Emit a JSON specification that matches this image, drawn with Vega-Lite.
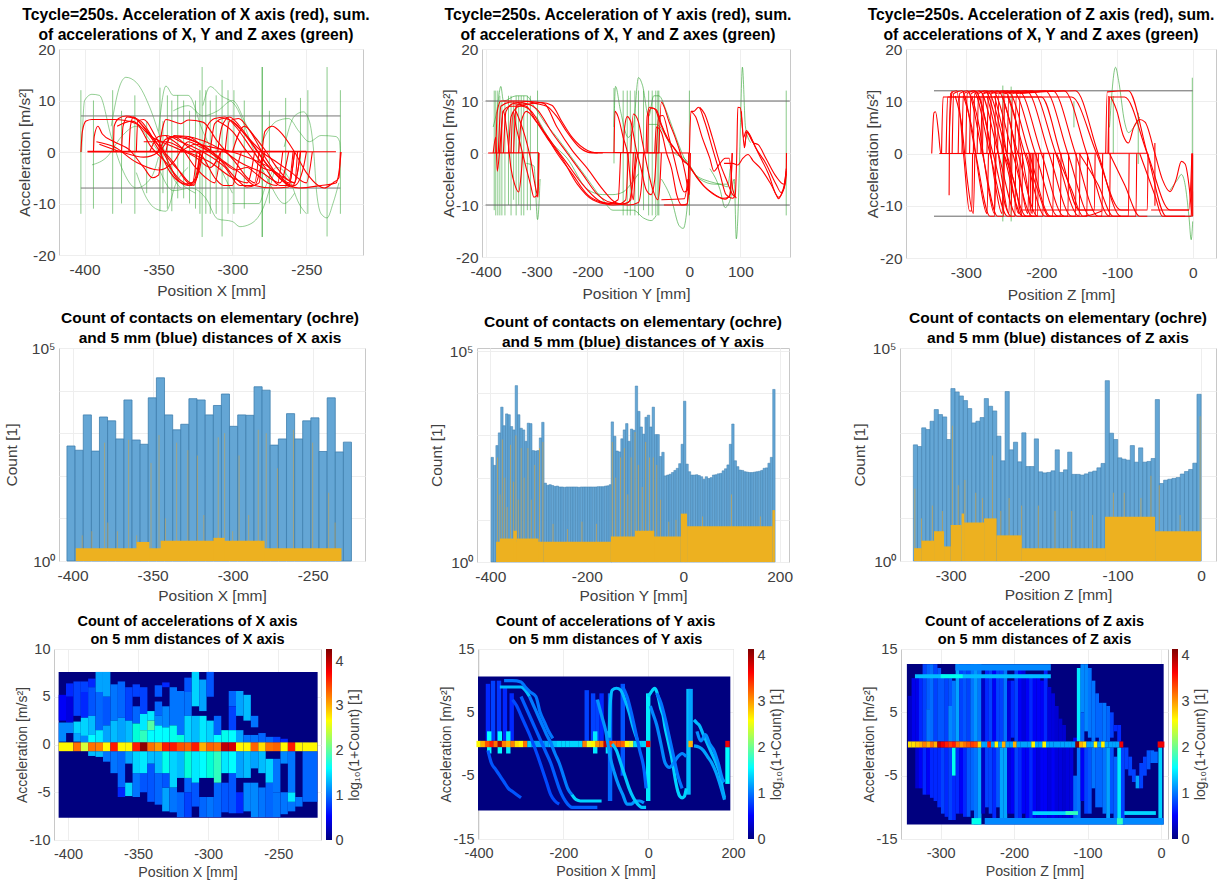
{"$schema":"https://vega.github.io/schema/vega-lite/v6.json","padding":0,"background":"white","data":{"values":[]},"spacing":0,"bounds":"full","align":"none","center":false,
"config":{"view":{"stroke":null},"font":"Liberation Sans","title":{"font":"Liberation Sans","fontWeight":"bold","color":"#000000","anchor":"middle"},"axis":{"grid":true,"gridColor":"#eeeeee","domain":false,"ticks":false,"labelColor":"#404040","titleColor":"#404040","titleFontWeight":"normal","labelOverlap":false,"labelBound":false,"labelFlush":false}},
"vconcat":[
{"width":1,"height":6,"mark":"point"},
{"bounds":"flush","spacing":0,"align":"none","center":false,"hconcat":[
{"width":59,"height":1,"mark":"point"},
{"width":304,"height":206,"view":{"stroke":"#c8c8c8"},"title":{"text":["Tcycle=250s. Acceleration of X axis (red), sum.","of accelerations of X, Y and Z axes (green)"],"fontSize":15.7,"lineHeight":20,"offset":-2,"dx":-15},
"layer":[
{"data":{"values":[{"x":-402.5,"y":12,"Y":-12},{"x":-394,"y":10,"Y":-11},{"x":-381,"y":12,"Y":-12},{"x":-375,"y":8,"Y":-10},{"x":-366,"y":11,"Y":-12},{"x":-358,"y":6,"Y":-8},{"x":-349,"y":12.5,"Y":-11.5},{"x":-347,"y":6,"Y":-8},{"x":-344,"y":11,"Y":-11},{"x":-341,"y":10,"Y":-11.5},{"x":-337,"y":11,"Y":-9},{"x":-333,"y":10,"Y":-9},{"x":-329,"y":8,"Y":-10},{"x":-325,"y":10,"Y":-11},{"x":-322,"y":12,"Y":-12},{"x":-320.5,"y":16.5,"Y":-16.5},{"x":-318,"y":12,"Y":-12},{"x":-315,"y":10,"Y":-12},{"x":-311,"y":11,"Y":-12},{"x":-307,"y":14,"Y":-16.4},{"x":-303,"y":12,"Y":-12},{"x":-299,"y":12,"Y":-12},{"x":-292,"y":10,"Y":-11},{"x":-280,"y":16.5,"Y":-16.5},{"x":-279.7,"y":16.5,"Y":-16.5},{"x":-275,"y":8,"Y":-10},{"x":-264,"y":10.5,"Y":-12},{"x":-254,"y":10.5,"Y":-12},{"x":-249,"y":12,"Y":-12},{"x":-236,"y":16.5,"Y":-16.4},{"x":-227,"y":12,"Y":-12}]},"mark":{"type":"rule","color":"#2ca02c","opacity":0.55,"strokeWidth":1},"encoding":{"x":{"field":"x","type":"quantitative","scale":{"domain":[-417.3,-211.7],"nice":false,"zero":false},"axis":{"values":[-400,-350,-300,-250],"labelExpr":"''+datum.value","title":"Position X [mm]","labelFontSize":15.5,"titleFontSize":15.5,"labelPadding":7,"titlePadding":6}},"y":{"field":"y","type":"quantitative","scale":{"domain":[-20,20],"nice":false},"axis":{"values":[-20,-10,0,10,20],"labelExpr":"''+datum.value","title":"Acceleration [m/s²]","labelFontSize":15.5,"titleFontSize":15.5,"labelPadding":4,"titlePadding":0}},"y2":{"field":"Y"}}},
{"data":{"values":[{"c":1,"x":-402,"y":0},{"c":1,"x":-400,"y":10},{"c":1,"x":-395,"y":11.2},{"c":1,"x":-390,"y":11},{"c":1,"x":-382,"y":3},{"c":1,"x":-375,"y":-3},{"c":1,"x":-365,"y":-7},{"c":1,"x":-355,"y":-5},{"c":1,"x":-350,"y":-1},{"c":2,"x":-382,"y":5},{"c":2,"x":-376,"y":13},{"c":2,"x":-372,"y":14.5},{"c":2,"x":-365,"y":13.5},{"c":2,"x":-355,"y":8},{"c":2,"x":-348,"y":2},{"c":2,"x":-340,"y":-5},{"c":2,"x":-335,"y":-7},{"c":3,"x":-350,"y":4},{"c":3,"x":-345,"y":12.8},{"c":3,"x":-340,"y":11},{"c":3,"x":-330,"y":11},{"c":3,"x":-320,"y":4},{"c":3,"x":-310,"y":-2},{"c":3,"x":-300,"y":-8},{"c":4,"x":-320,"y":9},{"c":4,"x":-315,"y":12.7},{"c":4,"x":-308,"y":11},{"c":4,"x":-298,"y":9},{"c":4,"x":-285,"y":0},{"c":4,"x":-275,"y":-6},{"c":4,"x":-265,"y":-10},{"c":4,"x":-258,"y":-8},{"c":5,"x":-350,"y":-3},{"c":5,"x":-340,"y":-7.5},{"c":5,"x":-328,"y":-7},{"c":5,"x":-318,"y":-9},{"c":5,"x":-310,"y":-13},{"c":5,"x":-300,"y":-13.5},{"c":5,"x":-295,"y":-14.5},{"c":5,"x":-288,"y":-14},{"c":5,"x":-278,"y":-10},{"c":5,"x":-272,"y":-4},{"c":6,"x":-365,"y":-4},{"c":6,"x":-358,"y":-9},{"c":6,"x":-352,"y":-11},{"c":6,"x":-345,"y":-11.5},{"c":6,"x":-338,"y":-6},{"c":6,"x":-330,"y":-3},{"c":7,"x":-265,"y":1},{"c":7,"x":-258,"y":7},{"c":7,"x":-252,"y":7.8},{"c":7,"x":-248,"y":6},{"c":7,"x":-245,"y":0},{"c":7,"x":-243,"y":-8},{"c":7,"x":-240,"y":-12},{"c":7,"x":-236,"y":-12.8},{"c":7,"x":-232,"y":-10},{"c":7,"x":-228,"y":-6},{"c":8,"x":-280,"y":2},{"c":8,"x":-270,"y":6},{"c":8,"x":-262,"y":6.5},{"c":8,"x":-255,"y":4},{"c":8,"x":-248,"y":2},{"c":8,"x":-240,"y":3.2},{"c":8,"x":-230,"y":3},{"c":8,"x":-227.5,"y":2},{"c":8,"x":-227,"y":0},{"c":9,"x":-300,"y":-10},{"c":9,"x":-290,"y":-10},{"c":9,"x":-282,"y":-10},{"c":9,"x":-278,"y":-7},{"c":9,"x":-270,"y":-3},{"c":9,"x":-262,"y":-5},{"c":9,"x":-255,"y":-10},{"c":9,"x":-250,"y":-12},{"c":10,"x":-340,"y":8},{"c":10,"x":-330,"y":9},{"c":10,"x":-320,"y":7},{"c":10,"x":-310,"y":8},{"c":10,"x":-300,"y":10},{"c":10,"x":-290,"y":5},{"c":10,"x":-280,"y":1},{"c":11,"x":-395,"y":-2.5},{"c":11,"x":-385,"y":-1},{"c":11,"x":-375,"y":3},{"c":11,"x":-365,"y":5},{"c":11,"x":-355,"y":2},{"c":11,"x":-345,"y":-2},{"c":11,"x":-335,"y":-6},{"c":11,"x":-325,"y":-8}]},"mark":{"type":"line","color":"#2ca02c","opacity":0.5,"strokeWidth":1,"interpolate":"monotone"},"encoding":{"x":{"field":"x","type":"quantitative"},"y":{"field":"y","type":"quantitative"},"detail":{"field":"c"}}},
{"data":{"values":[{"x":-402.5,"X":-227,"y":7},{"x":-402.5,"X":-227,"y":-7}]},"mark":{"type":"rule","color":"#777777","strokeWidth":1},"encoding":{"x":{"field":"x","type":"quantitative"},"x2":{"field":"X"},"y":{"field":"y","type":"quantitative"}}},
{"data":{"values":[{"c":1,"x":-402.5,"y":0},{"c":1,"x":-401.5,"y":4},{"c":1,"x":-399,"y":6},{"c":1,"x":-395,"y":6.3},{"c":1,"x":-380,"y":6.3},{"c":1,"x":-365,"y":5.5},{"c":1,"x":-355,"y":1},{"c":1,"x":-345,"y":-2},{"c":1,"x":-335,"y":-5.5},{"c":1,"x":-328,"y":-6.5},{"c":1,"x":-322,"y":-3},{"c":1,"x":-320,"y":0},{"c":2,"x":-394,"y":0},{"c":2,"x":-393.5,"y":3},{"c":2,"x":-391,"y":5},{"c":2,"x":-388,"y":3.5},{"c":2,"x":-380,"y":2},{"c":2,"x":-370,"y":0.5},{"c":2,"x":-360,"y":-3},{"c":2,"x":-354,"y":-5},{"c":2,"x":-350,"y":-4.5},{"c":2,"x":-348,"y":0},{"c":3,"x":-380.5,"y":0},{"c":3,"x":-380,"y":5},{"c":3,"x":-377,"y":6.5},{"c":3,"x":-372,"y":7},{"c":3,"x":-362,"y":6},{"c":3,"x":-352,"y":2},{"c":3,"x":-340,"y":-2},{"c":3,"x":-330,"y":-6},{"c":3,"x":-326,"y":-6.5},{"c":3,"x":-322,"y":-2},{"c":3,"x":-320,"y":0},{"c":4,"x":-375,"y":0},{"c":4,"x":-374,"y":5},{"c":4,"x":-371,"y":6.8},{"c":4,"x":-366,"y":6.5},{"c":4,"x":-358,"y":4},{"c":4,"x":-350,"y":0.5},{"c":4,"x":-342,"y":-4},{"c":4,"x":-335,"y":-6},{"c":4,"x":-330,"y":-6.5},{"c":4,"x":-325,"y":-5},{"c":4,"x":-322,"y":0},{"c":5,"x":-370,"y":0},{"c":5,"x":-369,"y":5},{"c":5,"x":-367,"y":6.8},{"c":5,"x":-362,"y":5.5},{"c":5,"x":-352,"y":2},{"c":5,"x":-345,"y":-1},{"c":5,"x":-338,"y":-5},{"c":5,"x":-332,"y":-6.2},{"c":5,"x":-327,"y":-6},{"c":5,"x":-324,"y":0},{"c":6,"x":-365,"y":0},{"c":6,"x":-364,"y":6},{"c":6,"x":-360,"y":6.3},{"c":6,"x":-352,"y":3},{"c":6,"x":-344,"y":-1},{"c":6,"x":-335,"y":-4},{"c":6,"x":-328,"y":-6},{"c":6,"x":-324,"y":-5},{"c":6,"x":-322,"y":0},{"c":7,"x":-356,"y":0},{"c":7,"x":-350,"y":3},{"c":7,"x":-345,"y":3.2},{"c":7,"x":-335,"y":2},{"c":7,"x":-320,"y":0},{"c":7,"x":-305,"y":-3},{"c":7,"x":-295,"y":-6.5},{"c":7,"x":-285,"y":-6.5},{"c":7,"x":-280,"y":-2},{"c":7,"x":-278,"y":0},{"c":8,"x":-350,"y":0},{"c":8,"x":-345,"y":2.5},{"c":8,"x":-335,"y":3},{"c":8,"x":-325,"y":2},{"c":8,"x":-310,"y":-1},{"c":8,"x":-298,"y":-5},{"c":8,"x":-290,"y":-6.8},{"c":8,"x":-282,"y":-6},{"c":8,"x":-280,"y":0},{"c":9,"x":-350,"y":0},{"c":9,"x":-345,"y":6.3},{"c":9,"x":-335,"y":5.5},{"c":9,"x":-330,"y":6.2},{"c":9,"x":-320,"y":5.8},{"c":9,"x":-310,"y":2},{"c":9,"x":-298,"y":-2},{"c":9,"x":-290,"y":-5},{"c":9,"x":-285,"y":-6},{"c":9,"x":-282,"y":0},{"c":10,"x":-320,"y":0},{"c":10,"x":-317,"y":5},{"c":10,"x":-312,"y":6.5},{"c":10,"x":-305,"y":6.8},{"c":10,"x":-298,"y":5},{"c":10,"x":-288,"y":1},{"c":10,"x":-278,"y":-3},{"c":10,"x":-268,"y":-6.5},{"c":10,"x":-262,"y":-6.5},{"c":10,"x":-258,"y":0},{"c":11,"x":-315,"y":0},{"c":11,"x":-312,"y":5.5},{"c":11,"x":-306,"y":6.5},{"c":11,"x":-298,"y":5.5},{"c":11,"x":-288,"y":2},{"c":11,"x":-278,"y":-2},{"c":11,"x":-268,"y":-5},{"c":11,"x":-260,"y":-6.8},{"c":11,"x":-256,"y":-4},{"c":11,"x":-254,"y":0},{"c":12,"x":-310,"y":0},{"c":12,"x":-307,"y":5},{"c":12,"x":-302,"y":6.8},{"c":12,"x":-295,"y":5},{"c":12,"x":-285,"y":1},{"c":12,"x":-275,"y":-3},{"c":12,"x":-264,"y":-6},{"c":12,"x":-258,"y":-6.5},{"c":12,"x":-252,"y":-3},{"c":12,"x":-250,"y":0},{"c":13,"x":-280,"y":0},{"c":13,"x":-278,"y":4},{"c":13,"x":-273,"y":5},{"c":13,"x":-268,"y":4},{"c":13,"x":-258,"y":0},{"c":13,"x":-250,"y":-4},{"c":13,"x":-242,"y":-6.5},{"c":13,"x":-238,"y":-7},{"c":13,"x":-232,"y":-6},{"c":13,"x":-228,"y":-5},{"c":13,"x":-227,"y":0},{"c":14,"x":-305,"y":0},{"c":14,"x":-302,"y":6},{"c":14,"x":-296,"y":6.5},{"c":14,"x":-288,"y":4},{"c":14,"x":-278,"y":-1},{"c":14,"x":-268,"y":-5},{"c":14,"x":-255,"y":-7},{"c":14,"x":-240,"y":-6.5},{"c":14,"x":-230,"y":-6},{"c":14,"x":-228,"y":-4},{"c":14,"x":-226.5,"y":0},{"c":15,"x":-345,"y":0},{"c":15,"x":-342,"y":3},{"c":15,"x":-330,"y":2.5},{"c":15,"x":-318,"y":1},{"c":15,"x":-305,"y":-2},{"c":15,"x":-295,"y":-4},{"c":15,"x":-285,"y":-6.5},{"c":15,"x":-272,"y":-7},{"c":15,"x":-262,"y":-6.8},{"c":15,"x":-258,"y":0},{"c":16,"x":-392,"y":2},{"c":16,"x":-380,"y":1},{"c":16,"x":-365,"y":-2},{"c":16,"x":-350,"y":-3.5},{"c":16,"x":-340,"y":-2},{"c":16,"x":-330,"y":2},{"c":16,"x":-322,"y":1},{"c":16,"x":-315,"y":0},{"c":17,"x":-335,"y":0},{"c":17,"x":-325,"y":1.5},{"c":17,"x":-315,"y":1},{"c":17,"x":-300,"y":0},{"c":17,"x":-290,"y":-1},{"c":17,"x":-278,"y":-2.5},{"c":17,"x":-265,"y":-5},{"c":17,"x":-258,"y":-6},{"c":17,"x":-254,"y":0},{"c":18,"x":-300,"y":0},{"c":18,"x":-292,"y":5},{"c":18,"x":-285,"y":3},{"c":18,"x":-277,"y":0},{"c":18,"x":-270,"y":-3},{"c":18,"x":-262,"y":-5.5},{"c":18,"x":-258,"y":-6},{"c":18,"x":-256,"y":0},{"c":19,"x":-390,"y":1.5},{"c":19,"x":-375,"y":0},{"c":19,"x":-360,"y":-1},{"c":19,"x":-350,"y":0},{"c":19,"x":-340,"y":3},{"c":19,"x":-330,"y":1},{"c":19,"x":-320,"y":-1},{"c":19,"x":-312,"y":-5},{"c":19,"x":-306,"y":-6.5},{"c":19,"x":-300,"y":-6.5},{"c":19,"x":-296,"y":-2},{"c":19,"x":-294,"y":0},{"c":20,"x":-340,"y":3.2},{"c":20,"x":-330,"y":3},{"c":20,"x":-318,"y":0.5},{"c":20,"x":-306,"y":-2},{"c":20,"x":-298,"y":-3.5},{"c":20,"x":-290,"y":-3},{"c":20,"x":-285,"y":-4},{"c":20,"x":-276,"y":-6},{"c":20,"x":-270,"y":-6.5},{"c":20,"x":-266,"y":0},{"c":21,"x":-398,"y":0},{"c":21,"x":-230,"y":0.05},{"c":22,"x":-398,"y":0.12},{"c":22,"x":-250,"y":0.12},{"c":23,"x":-378,"y":5},{"c":23,"x":-368,"y":6},{"c":23,"x":-355,"y":3},{"c":23,"x":-340,"y":1},{"c":23,"x":-325,"y":-1},{"c":23,"x":-315,"y":-3},{"c":23,"x":-308,"y":0},{"c":24,"x":-360,"y":2},{"c":24,"x":-345,"y":2},{"c":24,"x":-330,"y":0},{"c":24,"x":-315,"y":-2},{"c":24,"x":-300,"y":-5},{"c":24,"x":-290,"y":-6},{"c":24,"x":-285,"y":0},{"c":25,"x":-330,"y":3},{"c":25,"x":-318,"y":2},{"c":25,"x":-305,"y":0},{"c":25,"x":-295,"y":-2},{"c":25,"x":-280,"y":-4},{"c":25,"x":-268,"y":-6},{"c":25,"x":-262,"y":0},{"c":26,"x":-300,"y":6},{"c":26,"x":-290,"y":3},{"c":26,"x":-280,"y":0},{"c":26,"x":-270,"y":-2},{"c":26,"x":-260,"y":-4},{"c":26,"x":-250,"y":-6},{"c":26,"x":-246,"y":0},{"c":27,"x":-310,"y":6},{"c":27,"x":-300,"y":4},{"c":27,"x":-290,"y":0},{"c":27,"x":-280,"y":-3},{"c":27,"x":-270,"y":-4},{"c":27,"x":-262,"y":-6},{"c":27,"x":-259,"y":0},{"c":28,"x":-345,"y":3},{"c":28,"x":-335,"y":1},{"c":28,"x":-325,"y":-3},{"c":28,"x":-318,"y":-5},{"c":28,"x":-312,"y":-6},{"c":28,"x":-308,"y":0}]},"mark":{"type":"line","color":"#ff0000","strokeWidth":1.1,"interpolate":"monotone"},"encoding":{"x":{"field":"x","type":"quantitative"},"y":{"field":"y","type":"quantitative"},"detail":{"field":"c"}}}
]},
{"width":119,"height":1,"mark":"point"},
{"width":308,"height":208,"view":{"stroke":"#c8c8c8"},"title":{"text":["Tcycle=250s. Acceleration of Y axis (red), sum.","of accelerations of X, Y and Z axes (green)"],"fontSize":15.7,"lineHeight":20,"offset":-2,"dx":-18},
"layer":[
{"data":{"values":[{"x":-383,"y":12,"Y":-11},{"x":-380,"y":12,"Y":-12},{"x":-376,"y":12,"Y":-12},{"x":-372,"y":11,"Y":-12},{"x":-368,"y":10,"Y":-12},{"x":-362,"y":10,"Y":-12},{"x":-355,"y":11,"Y":-10},{"x":-350,"y":11,"Y":-12},{"x":-345,"y":10,"Y":-9},{"x":-340,"y":11,"Y":-12},{"x":-335,"y":11,"Y":-10},{"x":-330,"y":11,"Y":-12},{"x":-325,"y":11,"Y":-12},{"x":-318,"y":11,"Y":-11},{"x":-312,"y":11,"Y":-11},{"x":-298,"y":12,"Y":-8},{"x":-148,"y":12.5,"Y":-2},{"x":-130,"y":12,"Y":-12},{"x":-122,"y":12,"Y":-12},{"x":-116,"y":12,"Y":-12},{"x":-107,"y":12,"Y":-12},{"x":-100,"y":12,"Y":-12},{"x":-90,"y":12,"Y":-11},{"x":-80,"y":12,"Y":-12},{"x":-73,"y":12,"Y":-12},{"x":-66,"y":12,"Y":-12},{"x":-62,"y":12,"Y":-12},{"x":-60,"y":12,"Y":-12},{"x":0,"y":12,"Y":-12},{"x":190,"y":12,"Y":-12}]},"mark":{"type":"rule","color":"#2ca02c","opacity":0.55,"strokeWidth":1},"encoding":{"x":{"field":"x","type":"quantitative","scale":{"domain":[-407,197.4],"nice":false,"zero":false},"axis":{"values":[-400,-300,-200,-100,0,100],"labelExpr":"''+datum.value","title":"Position Y [mm]","labelFontSize":15.5,"titleFontSize":15.5,"labelPadding":7,"titlePadding":7}},"y":{"field":"y","type":"quantitative","scale":{"domain":[-20,20],"nice":false},"axis":{"values":[-20,-10,0,10,20],"labelExpr":"''+datum.value","title":"Acceleration [m/s²]","labelFontSize":15.5,"titleFontSize":15.5,"labelPadding":4,"titlePadding":-1}},"y2":{"field":"Y"}}},
{"data":{"values":[{"c":1,"x":-385,"y":5},{"c":1,"x":-378,"y":8},{"c":1,"x":-370,"y":12.8},{"c":1,"x":-365,"y":10},{"c":1,"x":-340,"y":11},{"c":1,"x":-320,"y":11},{"c":1,"x":-305,"y":9},{"c":1,"x":-285,"y":6},{"c":1,"x":-260,"y":3},{"c":1,"x":-230,"y":-1},{"c":1,"x":-200,"y":-5},{"c":1,"x":-170,"y":-9},{"c":1,"x":-150,"y":-11},{"c":1,"x":-130,"y":-11},{"c":1,"x":-110,"y":-11},{"c":1,"x":-90,"y":-12.5},{"c":1,"x":-75,"y":-13},{"c":1,"x":-65,"y":-12},{"c":2,"x":-148,"y":5},{"c":2,"x":-145,"y":12.8},{"c":2,"x":-135,"y":8},{"c":2,"x":-120,"y":3},{"c":2,"x":-110,"y":5},{"c":2,"x":-100,"y":14.5},{"c":2,"x":-92,"y":13},{"c":2,"x":-80,"y":7},{"c":2,"x":-70,"y":11},{"c":2,"x":-60,"y":11},{"c":2,"x":-45,"y":8},{"c":2,"x":-30,"y":4},{"c":2,"x":-10,"y":-1},{"c":2,"x":10,"y":-4},{"c":2,"x":40,"y":-5.5},{"c":2,"x":60,"y":-6},{"c":2,"x":75,"y":-6.5},{"c":2,"x":80,"y":-3},{"c":3,"x":-55,"y":-5},{"c":3,"x":-35,"y":-9},{"c":3,"x":-20,"y":-14},{"c":3,"x":-12,"y":-14.5},{"c":3,"x":-5,"y":-11},{"c":3,"x":0,"y":-5},{"c":4,"x":40,"y":-3},{"c":4,"x":60,"y":-7},{"c":4,"x":70,"y":-10.5},{"c":4,"x":80,"y":-9},{"c":4,"x":88,"y":-5},{"c":4,"x":92,"y":-16.5},{"c":4,"x":96,"y":-10},{"c":4,"x":100,"y":5},{"c":4,"x":104,"y":16.5},{"c":4,"x":110,"y":5},{"c":4,"x":120,"y":2},{"c":5,"x":-320,"y":-2},{"c":5,"x":-305,"y":-2.5},{"c":5,"x":-298,"y":-12.8},{"c":5,"x":-293,"y":-5},{"c":6,"x":-300,"y":7},{"c":6,"x":-270,"y":2},{"c":6,"x":-240,"y":-1},{"c":6,"x":-200,"y":-7},{"c":6,"x":-170,"y":-8},{"c":6,"x":-150,"y":-8},{"c":6,"x":-130,"y":-7.5},{"c":6,"x":-115,"y":-6},{"c":6,"x":-100,"y":-4},{"c":7,"x":-80,"y":5.5},{"c":7,"x":-65,"y":5.5},{"c":7,"x":-45,"y":3},{"c":7,"x":-30,"y":0},{"c":7,"x":-10,"y":-1},{"c":7,"x":20,"y":-5},{"c":7,"x":50,"y":-6},{"c":7,"x":75,"y":-6}]},"mark":{"type":"line","color":"#2ca02c","opacity":0.6,"strokeWidth":1,"interpolate":"monotone"},"encoding":{"x":{"field":"x","type":"quantitative"},"y":{"field":"y","type":"quantitative"},"detail":{"field":"c"}}},
{"data":{"values":[{"x":-400,"X":197,"y":10},{"x":-400,"X":197,"y":-10}]},"mark":{"type":"rule","color":"#666666","strokeWidth":1},"encoding":{"x":{"field":"x","type":"quantitative"},"x2":{"field":"X"},"y":{"field":"y","type":"quantitative"}}},
{"data":{"values":[{"c":1,"x":-380,"y":0},{"c":1,"x":-377,"y":8},{"c":1,"x":-370,"y":10},{"c":1,"x":-340,"y":10},{"c":1,"x":-300,"y":9.8},{"c":1,"x":-285,"y":9.5},{"c":1,"x":-260,"y":5},{"c":1,"x":-230,"y":0.5},{"c":1,"x":-200,"y":-3},{"c":1,"x":-170,"y":-7},{"c":1,"x":-145,"y":-9.5},{"c":1,"x":-120,"y":-10},{"c":1,"x":-100,"y":-9.5},{"c":1,"x":-93,"y":-5},{"c":1,"x":-90,"y":0},{"c":2,"x":-375,"y":0},{"c":2,"x":-370,"y":9},{"c":2,"x":-350,"y":9.8},{"c":2,"x":-320,"y":9.5},{"c":2,"x":-300,"y":8.5},{"c":2,"x":-270,"y":4},{"c":2,"x":-240,"y":0},{"c":2,"x":-210,"y":-4},{"c":2,"x":-180,"y":-8},{"c":2,"x":-155,"y":-9.5},{"c":2,"x":-130,"y":-9.8},{"c":2,"x":-115,"y":-9},{"c":2,"x":-110,"y":0},{"c":3,"x":-370,"y":0},{"c":3,"x":-366,"y":8},{"c":3,"x":-350,"y":9},{"c":3,"x":-330,"y":9},{"c":3,"x":-310,"y":8},{"c":3,"x":-285,"y":4},{"c":3,"x":-260,"y":0},{"c":3,"x":-230,"y":-4},{"c":3,"x":-200,"y":-8},{"c":3,"x":-170,"y":-9.5},{"c":3,"x":-140,"y":-9.8},{"c":3,"x":-125,"y":-9},{"c":3,"x":-120,"y":0},{"c":4,"x":-365,"y":0},{"c":4,"x":-360,"y":8},{"c":4,"x":-345,"y":9.5},{"c":4,"x":-320,"y":9},{"c":4,"x":-300,"y":6},{"c":4,"x":-280,"y":3},{"c":4,"x":-250,"y":-1},{"c":4,"x":-220,"y":-6},{"c":4,"x":-190,"y":-9},{"c":4,"x":-160,"y":-9.8},{"c":4,"x":-140,"y":-9},{"c":4,"x":-135,"y":0},{"c":5,"x":-355,"y":0},{"c":5,"x":-350,"y":7},{"c":5,"x":-335,"y":9},{"c":5,"x":-310,"y":9.5},{"c":5,"x":-290,"y":9.7},{"c":5,"x":-270,"y":9.2},{"c":5,"x":-250,"y":6},{"c":5,"x":-230,"y":3},{"c":5,"x":-200,"y":0.5},{"c":5,"x":-180,"y":0},{"c":6,"x":-345,"y":0},{"c":6,"x":-340,"y":9},{"c":6,"x":-320,"y":9.9},{"c":6,"x":-300,"y":9.5},{"c":6,"x":-280,"y":9},{"c":6,"x":-260,"y":7},{"c":6,"x":-240,"y":4},{"c":6,"x":-215,"y":1},{"c":6,"x":-190,"y":0},{"c":6,"x":-170,"y":0},{"c":7,"x":-335,"y":0},{"c":7,"x":-330,"y":6},{"c":7,"x":-320,"y":8},{"c":7,"x":-300,"y":6},{"c":7,"x":-270,"y":2},{"c":7,"x":-240,"y":-2},{"c":7,"x":-210,"y":-6},{"c":7,"x":-180,"y":-9},{"c":7,"x":-150,"y":-10},{"c":7,"x":-120,"y":-9.5},{"c":7,"x":-110,"y":-5},{"c":7,"x":-105,"y":0},{"c":8,"x":-385,"y":0},{"c":8,"x":-380,"y":3},{"c":8,"x":-377,"y":-3.5},{"c":8,"x":-372,"y":1},{"c":8,"x":-365,"y":8},{"c":8,"x":-358,"y":4},{"c":8,"x":-350,"y":-3},{"c":8,"x":-343,"y":-6},{"c":8,"x":-335,"y":-7.5},{"c":8,"x":-330,"y":-4},{"c":8,"x":-327,"y":0},{"c":9,"x":-350,"y":0},{"c":9,"x":-346,"y":8},{"c":9,"x":-340,"y":5},{"c":9,"x":-330,"y":1},{"c":9,"x":-320,"y":-3},{"c":9,"x":-312,"y":-6},{"c":9,"x":-305,"y":-8.5},{"c":9,"x":-298,"y":-8},{"c":9,"x":-296,"y":0},{"c":10,"x":-340,"y":8},{"c":10,"x":-332,"y":6},{"c":10,"x":-322,"y":3},{"c":10,"x":-312,"y":-1},{"c":10,"x":-305,"y":-5},{"c":10,"x":-300,"y":-7.5},{"c":10,"x":-297,"y":-8.5},{"c":10,"x":-295,"y":0},{"c":11,"x":-148,"y":0},{"c":11,"x":-146,"y":8},{"c":11,"x":-140,"y":7},{"c":11,"x":-130,"y":3},{"c":11,"x":-120,"y":-1},{"c":11,"x":-115,"y":-6},{"c":11,"x":-110,"y":-9},{"c":11,"x":-106,"y":-3},{"c":11,"x":-100,"y":0},{"c":12,"x":-130,"y":0},{"c":12,"x":-127,"y":5},{"c":12,"x":-122,"y":7},{"c":12,"x":-115,"y":6},{"c":12,"x":-105,"y":1},{"c":12,"x":-95,"y":-3},{"c":12,"x":-85,"y":-7},{"c":12,"x":-75,"y":-8},{"c":12,"x":-68,"y":-5},{"c":12,"x":-65,"y":0},{"c":13,"x":-115,"y":0},{"c":13,"x":-110,"y":7.5},{"c":13,"x":-100,"y":6},{"c":13,"x":-92,"y":2},{"c":13,"x":-82,"y":-3},{"c":13,"x":-72,"y":-7},{"c":13,"x":-62,"y":-9},{"c":13,"x":-58,"y":-6},{"c":13,"x":-55,"y":0},{"c":14,"x":-85,"y":0},{"c":14,"x":-83,"y":7},{"c":14,"x":-78,"y":8.8},{"c":14,"x":-68,"y":8.5},{"c":14,"x":-58,"y":6},{"c":14,"x":-45,"y":3},{"c":14,"x":-30,"y":1},{"c":14,"x":-15,"y":-1},{"c":14,"x":-5,"y":-2},{"c":14,"x":10,"y":-4},{"c":14,"x":30,"y":-6.5},{"c":14,"x":50,"y":-8},{"c":14,"x":65,"y":-8.7},{"c":14,"x":78,"y":-8.5},{"c":14,"x":82,"y":-5},{"c":14,"x":84,"y":0},{"c":15,"x":-82,"y":0},{"c":15,"x":-80,"y":7.5},{"c":15,"x":-75,"y":8.6},{"c":15,"x":-65,"y":8.3},{"c":15,"x":-55,"y":5.5},{"c":15,"x":-42,"y":2.7},{"c":15,"x":-28,"y":0.6},{"c":15,"x":-12,"y":-1.5},{"c":15,"x":0,"y":-2.5},{"c":15,"x":15,"y":-4.8},{"c":15,"x":35,"y":-7},{"c":15,"x":55,"y":-8.4},{"c":15,"x":70,"y":-8.9},{"c":15,"x":80,"y":-8},{"c":15,"x":84,"y":0},{"c":16,"x":-60,"y":0},{"c":16,"x":-55,"y":9.8},{"c":16,"x":-50,"y":9},{"c":16,"x":-40,"y":6},{"c":16,"x":-28,"y":3},{"c":16,"x":-15,"y":-1},{"c":16,"x":-8,"y":-4},{"c":16,"x":0,"y":-8},{"c":16,"x":2,"y":0},{"c":17,"x":-65,"y":0},{"c":17,"x":-60,"y":7},{"c":17,"x":-52,"y":7.2},{"c":17,"x":-40,"y":3},{"c":17,"x":-30,"y":-1},{"c":17,"x":-20,"y":-5},{"c":17,"x":-10,"y":-7.5},{"c":17,"x":-3,"y":-7},{"c":17,"x":-1,"y":0},{"c":18,"x":-68,"y":0},{"c":18,"x":-65,"y":5},{"c":18,"x":-55,"y":4},{"c":18,"x":-45,"y":0},{"c":18,"x":-35,"y":-3},{"c":18,"x":-25,"y":-8},{"c":18,"x":-15,"y":-10},{"c":18,"x":-5,"y":-9.8},{"c":18,"x":-2,"y":-8},{"c":18,"x":-1,"y":0},{"c":19,"x":0,"y":0},{"c":19,"x":3,"y":8},{"c":19,"x":8,"y":8},{"c":19,"x":18,"y":8.8},{"c":19,"x":30,"y":6},{"c":19,"x":45,"y":1},{"c":19,"x":60,"y":-4},{"c":19,"x":72,"y":-8},{"c":19,"x":85,"y":-8.7},{"c":19,"x":90,"y":-8},{"c":19,"x":93,"y":0},{"c":19,"x":95,"y":8.8},{"c":19,"x":100,"y":8.7},{"c":19,"x":104,"y":5},{"c":19,"x":108,"y":1},{"c":19,"x":112,"y":4},{"c":19,"x":120,"y":3},{"c":19,"x":135,"y":0},{"c":19,"x":155,"y":-4},{"c":19,"x":170,"y":-8},{"c":19,"x":175,"y":-8.8},{"c":19,"x":180,"y":-8},{"c":19,"x":190,"y":-4},{"c":19,"x":190.5,"y":0},{"c":20,"x":3,"y":8},{"c":20,"x":12,"y":7},{"c":20,"x":25,"y":3},{"c":20,"x":40,"y":-1},{"c":20,"x":48,"y":-3.5},{"c":20,"x":60,"y":-2},{"c":20,"x":70,"y":-1},{"c":20,"x":78,"y":-1},{"c":20,"x":85,"y":-7},{"c":20,"x":92,"y":-8.7},{"c":21,"x":20,"y":8.8},{"c":21,"x":30,"y":7.5},{"c":21,"x":45,"y":3},{"c":21,"x":60,"y":-2},{"c":21,"x":72,"y":-5},{"c":21,"x":85,"y":-8},{"c":21,"x":90,"y":-8.5},{"c":22,"x":68,"y":-2},{"c":22,"x":85,"y":-2},{"c":22,"x":95,"y":-2.3},{"c":22,"x":105,"y":-1},{"c":22,"x":115,"y":-0.3},{"c":22,"x":125,"y":-1.5},{"c":22,"x":140,"y":-3},{"c":22,"x":160,"y":-6},{"c":22,"x":175,"y":-8.5},{"c":22,"x":185,"y":-7},{"c":22,"x":190,"y":-3},{"c":23,"x":102,"y":8},{"c":23,"x":106,"y":3},{"c":23,"x":112,"y":4.3},{"c":23,"x":125,"y":2},{"c":23,"x":135,"y":1.6},{"c":23,"x":150,"y":-1},{"c":23,"x":170,"y":-4.5},{"c":23,"x":185,"y":-6},{"c":23,"x":190,"y":-3.5},{"c":24,"x":108,"y":1},{"c":24,"x":114,"y":4},{"c":24,"x":130,"y":1},{"c":24,"x":150,"y":-2},{"c":24,"x":170,"y":-6},{"c":24,"x":180,"y":-7.6},{"c":24,"x":188,"y":-6},{"c":24,"x":190,"y":-4},{"c":25,"x":-55,"y":-9},{"c":25,"x":-10,"y":-8.8},{"c":25,"x":-3,"y":-5},{"c":26,"x":-50,"y":-10},{"c":26,"x":-20,"y":-10},{"c":26,"x":-5,"y":-10},{"c":26,"x":-1,"y":-5},{"c":27,"x":-395,"y":0},{"c":27,"x":-295,"y":0.05},{"c":28,"x":-200,"y":0.1},{"c":28,"x":-60,"y":0},{"c":29,"x":-150,"y":0.1},{"c":29,"x":0,"y":0}]},"mark":{"type":"line","color":"#ff0000","strokeWidth":1.1,"interpolate":"monotone"},"encoding":{"x":{"field":"x","type":"quantitative"},"y":{"field":"y","type":"quantitative"},"detail":{"field":"c"}}}
]},
{"width":116,"height":1,"mark":"point"},
{"width":310,"height":209,"view":{"stroke":"#c8c8c8"},"title":{"text":["Tcycle=250s. Acceleration of Z axis (red), sum.","of accelerations of X, Y and Z axes (green)"],"fontSize":15.7,"lineHeight":20,"offset":-2,"dx":-20},
"layer":[
{"data":{"values":[{"x":-251,"y":13,"Y":-13},{"x":-240,"y":12.8,"Y":-13},{"x":-0.5,"y":14.5,"Y":-12},{"x":-105,"y":11,"Y":0},{"x":-72,"y":7.8,"Y":-2},{"x":-157,"y":10,"Y":5}]},"mark":{"type":"rule","color":"#2ca02c","opacity":0.6,"strokeWidth":1},"encoding":{"x":{"field":"x","type":"quantitative","scale":{"domain":[-379,30.8],"nice":false,"zero":false},"axis":{"values":[-300,-200,-100,0],"labelExpr":"''+datum.value","title":"Position Z [mm]","labelFontSize":15.5,"titleFontSize":15.5,"labelPadding":7,"titlePadding":7}},"y":{"field":"y","type":"quantitative","scale":{"domain":[-20,20],"nice":false},"axis":{"values":[-20,-10,0,10,20],"labelExpr":"''+datum.value","title":"Acceleration [m/s²]","labelFontSize":15.5,"titleFontSize":15.5,"labelPadding":4,"titlePadding":-1}},"y2":{"field":"Y"}}},
{"data":{"values":[{"c":1,"x":-110,"y":5},{"c":1,"x":-102,"y":16.5},{"c":1,"x":-98,"y":14},{"c":1,"x":-90,"y":6},{"c":1,"x":-85,"y":4},{"c":1,"x":-78,"y":5},{"c":1,"x":-70,"y":7},{"c":2,"x":-30,"y":-7},{"c":2,"x":-20,"y":-5},{"c":2,"x":-15,"y":-4},{"c":2,"x":-10,"y":-6},{"c":2,"x":-5,"y":-12},{"c":2,"x":-2,"y":-16.5},{"c":2,"x":0,"y":-13}]},"mark":{"type":"line","color":"#2ca02c","opacity":0.6,"strokeWidth":1,"interpolate":"monotone"},"encoding":{"x":{"field":"x","type":"quantitative"},"y":{"field":"y","type":"quantitative"},"detail":{"field":"c"}}},
{"data":{"values":[{"x":-342,"X":0,"y":12},{"x":-342,"X":0,"y":-12}]},"mark":{"type":"rule","color":"#666666","strokeWidth":1},"encoding":{"x":{"field":"x","type":"quantitative"},"x2":{"field":"X"},"y":{"field":"y","type":"quantitative"}}},
{"data":{"values":[{"c":1,"x":-322,"y":0},{"c":1,"x":-320,"y":11.5},{"c":1,"x":-312,"y":12},{"c":1,"x":-303,"y":0},{"c":1,"x":-295,"y":-11},{"c":1,"x":-292,"y":-11},{"c":1,"x":-291,"y":0},{"c":2,"x":-318,"y":0},{"c":2,"x":-316,"y":11.5},{"c":2,"x":-305,"y":12},{"c":2,"x":-287,"y":0},{"c":2,"x":-268,"y":-12},{"c":2,"x":-262,"y":-12},{"c":2,"x":-261,"y":0},{"c":3,"x":-310,"y":0},{"c":3,"x":-308,"y":11.5},{"c":3,"x":-298,"y":12},{"c":3,"x":-278,"y":0},{"c":3,"x":-258,"y":-12},{"c":3,"x":-250,"y":-12},{"c":3,"x":-249,"y":0},{"c":4,"x":-305,"y":0},{"c":4,"x":-303,"y":11.5},{"c":4,"x":-290,"y":12},{"c":4,"x":-268,"y":0},{"c":4,"x":-245,"y":-12},{"c":4,"x":-240,"y":-12},{"c":4,"x":-239,"y":0},{"c":5,"x":-300,"y":0},{"c":5,"x":-298,"y":11.5},{"c":5,"x":-288,"y":12},{"c":5,"x":-264,"y":0},{"c":5,"x":-240,"y":-12},{"c":5,"x":-235,"y":-12},{"c":5,"x":-234,"y":0},{"c":6,"x":-295,"y":0},{"c":6,"x":-293,"y":11.5},{"c":6,"x":-282,"y":12},{"c":6,"x":-257,"y":0},{"c":6,"x":-232,"y":-12},{"c":6,"x":-226,"y":-12},{"c":6,"x":-225,"y":0},{"c":7,"x":-290,"y":0},{"c":7,"x":-288,"y":11.5},{"c":7,"x":-275,"y":12},{"c":7,"x":-250,"y":0},{"c":7,"x":-225,"y":-12},{"c":7,"x":-215,"y":-12},{"c":7,"x":-214,"y":0},{"c":8,"x":-285,"y":0},{"c":8,"x":-283,"y":11.5},{"c":8,"x":-272,"y":12},{"c":8,"x":-246,"y":0},{"c":8,"x":-220,"y":-12},{"c":8,"x":-208,"y":-12},{"c":8,"x":-207,"y":0},{"c":9,"x":-280,"y":0},{"c":9,"x":-278,"y":11.5},{"c":9,"x":-265,"y":12},{"c":9,"x":-238,"y":0},{"c":9,"x":-212,"y":-12},{"c":9,"x":-205,"y":-12},{"c":9,"x":-204,"y":0},{"c":10,"x":-278,"y":0},{"c":10,"x":-276,"y":11.5},{"c":10,"x":-258,"y":12},{"c":10,"x":-231,"y":0},{"c":10,"x":-205,"y":-12},{"c":10,"x":-198,"y":-12},{"c":10,"x":-197,"y":0},{"c":11,"x":-272,"y":0},{"c":11,"x":-270,"y":11.5},{"c":11,"x":-250,"y":12},{"c":11,"x":-222,"y":0},{"c":11,"x":-195,"y":-12},{"c":11,"x":-185,"y":-12},{"c":11,"x":-184,"y":0},{"c":12,"x":-268,"y":0},{"c":12,"x":-266,"y":11.5},{"c":12,"x":-245,"y":12},{"c":12,"x":-216,"y":0},{"c":12,"x":-188,"y":-12},{"c":12,"x":-175,"y":-12},{"c":12,"x":-174,"y":0},{"c":13,"x":-262,"y":0},{"c":13,"x":-260,"y":11.5},{"c":13,"x":-238,"y":12},{"c":13,"x":-208,"y":0},{"c":13,"x":-178,"y":-12},{"c":13,"x":-165,"y":-12},{"c":13,"x":-164,"y":0},{"c":14,"x":-258,"y":0},{"c":14,"x":-256,"y":11.5},{"c":14,"x":-230,"y":12},{"c":14,"x":-200,"y":0},{"c":14,"x":-170,"y":-12},{"c":14,"x":-155,"y":-12},{"c":14,"x":-154,"y":0},{"c":15,"x":-252,"y":0},{"c":15,"x":-250,"y":11.5},{"c":15,"x":-220,"y":12},{"c":15,"x":-190,"y":0},{"c":15,"x":-160,"y":-12},{"c":15,"x":-150,"y":-12},{"c":15,"x":-149,"y":0},{"c":16,"x":-250,"y":0},{"c":16,"x":-248,"y":11.5},{"c":16,"x":-212,"y":12},{"c":16,"x":-181,"y":0},{"c":16,"x":-150,"y":-12},{"c":16,"x":-140,"y":-12},{"c":16,"x":-139,"y":0},{"c":17,"x":-245,"y":0},{"c":17,"x":-243,"y":11.5},{"c":17,"x":-195,"y":12},{"c":17,"x":-165,"y":0},{"c":17,"x":-135,"y":-12},{"c":17,"x":-120,"y":-12},{"c":17,"x":-119,"y":0},{"c":18,"x":-240,"y":0},{"c":18,"x":-238,"y":11.5},{"c":18,"x":-185,"y":12},{"c":18,"x":-155,"y":0},{"c":18,"x":-125,"y":-12},{"c":18,"x":-110,"y":-12},{"c":18,"x":-109,"y":0},{"c":19,"x":-235,"y":0},{"c":19,"x":-233,"y":11.5},{"c":19,"x":-170,"y":12},{"c":19,"x":-140,"y":0},{"c":19,"x":-110,"y":-12},{"c":19,"x":-85,"y":-12},{"c":19,"x":-84,"y":0},{"c":20,"x":-230,"y":0},{"c":20,"x":-228,"y":11.5},{"c":20,"x":-155,"y":12},{"c":20,"x":-125,"y":0},{"c":20,"x":-95,"y":-12},{"c":20,"x":-75,"y":-12},{"c":20,"x":-74,"y":0},{"c":21,"x":-332,"y":0},{"c":21,"x":-330,"y":10.8},{"c":21,"x":-160,"y":10.8},{"c":21,"x":-127,"y":0},{"c":21,"x":-95,"y":-10.8},{"c":21,"x":-60,"y":-10.8},{"c":21,"x":-59,"y":0},{"c":22,"x":-326,"y":0},{"c":22,"x":-324,"y":10.8},{"c":22,"x":-200,"y":10.8},{"c":22,"x":-175,"y":0},{"c":22,"x":-150,"y":-10.8},{"c":22,"x":-130,"y":-10.8},{"c":22,"x":-129,"y":0},{"c":23,"x":-115,"y":0},{"c":23,"x":-113,"y":11.8},{"c":23,"x":-85,"y":12},{"c":23,"x":-60,"y":0},{"c":23,"x":-35,"y":-12},{"c":23,"x":-2,"y":-12},{"c":23,"x":-1,"y":0},{"c":24,"x":-112,"y":0},{"c":24,"x":-110,"y":10.8},{"c":24,"x":-90,"y":10.8},{"c":24,"x":-60,"y":0},{"c":24,"x":-30,"y":-10.8},{"c":24,"x":-5,"y":-10.8},{"c":24,"x":-1,"y":0},{"c":25,"x":-250,"y":0},{"c":25,"x":-235,"y":-6},{"c":25,"x":-225,"y":-12},{"c":25,"x":-210,"y":-12},{"c":26,"x":-220,"y":0},{"c":26,"x":-205,"y":-7},{"c":26,"x":-190,"y":-12},{"c":26,"x":-170,"y":-12},{"c":27,"x":-180,"y":0},{"c":27,"x":-160,"y":-7},{"c":27,"x":-145,"y":-12},{"c":27,"x":-120,"y":-11},{"c":28,"x":-150,"y":0},{"c":28,"x":-125,"y":-6},{"c":28,"x":-105,"y":-12},{"c":28,"x":-95,"y":-12},{"c":29,"x":-110,"y":0},{"c":29,"x":-90,"y":-6},{"c":29,"x":-70,"y":-12},{"c":29,"x":-60,"y":-12},{"c":30,"x":-70,"y":0},{"c":30,"x":-50,"y":-8},{"c":30,"x":-40,"y":-12},{"c":30,"x":-10,"y":-12},{"c":31,"x":-345,"y":0},{"c":31,"x":-342,"y":7.8},{"c":31,"x":-340,"y":8},{"c":31,"x":-336,"y":4},{"c":31,"x":-333,"y":0},{"c":31,"x":-328,"y":0},{"c":32,"x":-108,"y":10.8},{"c":32,"x":-100,"y":8},{"c":32,"x":-92,"y":3.5},{"c":32,"x":-85,"y":2},{"c":32,"x":-78,"y":5},{"c":32,"x":-70,"y":6.5},{"c":32,"x":-63,"y":6},{"c":32,"x":-50,"y":0},{"c":32,"x":-40,"y":-5},{"c":32,"x":-30,"y":-7.3},{"c":32,"x":-22,"y":-5},{"c":32,"x":-15,"y":-1.5},{"c":32,"x":-10,"y":-2},{"c":32,"x":-5,"y":-6},{"c":32,"x":-1,"y":-12},{"c":33,"x":-228,"y":-10.8},{"c":33,"x":-85,"y":-10.8},{"c":34,"x":-55,"y":-10.8},{"c":34,"x":-5,"y":-10.8},{"c":35,"x":-335,"y":0},{"c":35,"x":-60,"y":0.05},{"c":36,"x":-212,"y":0},{"c":36,"x":-211.9,"y":-11},{"c":37,"x":-111,"y":0},{"c":37,"x":-110.9,"y":11},{"c":38,"x":-50,"y":2},{"c":38,"x":-49.9,"y":-10},{"c":39,"x":-0.1,"y":0},{"c":39,"x":0,"y":-12},{"c":40,"x":-322,"y":-8},{"c":40,"x":-321.5,"y":5},{"c":40,"x":-318,"y":12},{"c":41,"x":-314,"y":11},{"c":41,"x":-305,"y":5},{"c":41,"x":-298,"y":-5},{"c":41,"x":-290,"y":-11.5},{"c":41,"x":-288,"y":0},{"c":42,"x":-303,"y":11},{"c":42,"x":-292,"y":5},{"c":42,"x":-282,"y":-5},{"c":42,"x":-272,"y":-11.5},{"c":42,"x":-270,"y":0},{"c":43,"x":-292,"y":11},{"c":43,"x":-282,"y":5},{"c":43,"x":-272,"y":-5},{"c":43,"x":-262,"y":-11.5},{"c":43,"x":-260,"y":0},{"c":44,"x":-282,"y":11},{"c":44,"x":-272,"y":5},{"c":44,"x":-262,"y":-5},{"c":44,"x":-252,"y":-11.5},{"c":44,"x":-250,"y":0},{"c":45,"x":-272,"y":11},{"c":45,"x":-262,"y":5},{"c":45,"x":-252,"y":-5},{"c":45,"x":-243,"y":-11.5},{"c":45,"x":-241,"y":0},{"c":46,"x":-262,"y":11},{"c":46,"x":-252,"y":5},{"c":46,"x":-240,"y":-5},{"c":46,"x":-230,"y":-11.5},{"c":46,"x":-228,"y":0},{"c":47,"x":-252,"y":11},{"c":47,"x":-240,"y":5},{"c":47,"x":-228,"y":-5},{"c":47,"x":-218,"y":-11.5},{"c":47,"x":-216,"y":0},{"c":48,"x":-245,"y":11},{"c":48,"x":-232,"y":5},{"c":48,"x":-220,"y":-5},{"c":48,"x":-212,"y":-11.5},{"c":48,"x":-210,"y":0}]},"mark":{"type":"line","color":"#ff0000","strokeWidth":1.1,"interpolate":"monotone"},"encoding":{"x":{"field":"x","type":"quantitative"},"y":{"field":"y","type":"quantitative"},"detail":{"field":"c"}}}
]}
]},
{"width":1,"height":6,"mark":"point"},
{"bounds":"flush","spacing":0,"align":"none","center":false,"hconcat":[
{"width":59,"height":1,"mark":"point"},
{"width":306,"height":213,"view":{"stroke":"#c8c8c8"},"title":{"text":["Count of contacts on elementary (ochre)","and 5 mm (blue) distances of X axis"],"fontSize":15.5,"lineHeight":20,"offset":-5,"dx":-2},
"layer":[
{"data":{"values":[{"x":-401,"n":501},{"x":-395.9,"n":398},{"x":-390.8,"n":2690},{"x":-385.7,"n":380},{"x":-380.7,"n":2400},{"x":-375.6,"n":1950},{"x":-370.5,"n":733},{"x":-365.4,"n":6030},{"x":-360.3,"n":692},{"x":-355.3,"n":550},{"x":-350.2,"n":6760},{"x":-345.1,"n":19950},{"x":-340,"n":2690},{"x":-334.9,"n":1200},{"x":-329.9,"n":1620},{"x":-324.8,"n":6460},{"x":-319.7,"n":6030},{"x":-314.6,"n":2690},{"x":-309.5,"n":4470},{"x":-304.5,"n":8310},{"x":-299.4,"n":1450},{"x":-294.3,"n":2690},{"x":-289.2,"n":2630},{"x":-284.1,"n":12300},{"x":-279.1,"n":10230},{"x":-274,"n":525},{"x":-268.9,"n":733},{"x":-263.8,"n":2880},{"x":-258.7,"n":733},{"x":-253.7,"n":1950},{"x":-248.6,"n":2290},{"x":-243.5,"n":372},{"x":-238.4,"n":6760},{"x":-233.3,"n":363},{"x":-228.3,"n":617}]},"mark":{"type":"rect","width":8.1,"fill":"#64a6d5","stroke":"#3f7fae","strokeWidth":0.8},"encoding":{"x":{"field":"x","type":"quantitative","scale":{"domain":[-408.5,-217.3],"nice":false,"zero":false},"axis":{"values":[-400,-350,-300,-250],"labelExpr":"''+datum.value","title":"Position X [mm]","labelFontSize":15.5,"titleFontSize":15.5,"labelPadding":7,"titlePadding":5}},"y":{"field":"n","type":"quantitative","scale":{"type":"log","domain":[1,100000],"nice":false},"axis":{"values":[1,10,100,1000,10000,100000],"labelExpr":"datum.value==1?'10⁰':datum.value==100000?'10⁵':''","title":"Count [1]","labelFontSize":15.5,"titleFontSize":15.5,"labelPadding":4,"titlePadding":12}},"y2":{"datum":1}}},
{"data":{"values":[{"x":-394,"n":4},{"x":-388,"n":5},{"x":-380,"n":600},{"x":-378,"n":8},{"x":-372,"n":5},{"x":-365,"n":700},{"x":-360,"n":4},{"x":-351,"n":200},{"x":-346,"n":900},{"x":-342,"n":10},{"x":-335,"n":600},{"x":-328,"n":400},{"x":-322,"n":300},{"x":-318,"n":12},{"x":-309,"n":800},{"x":-305,"n":1000},{"x":-300,"n":5},{"x":-296,"n":300},{"x":-290,"n":12},{"x":-284,"n":1200},{"x":-279,"n":1000},{"x":-272,"n":150},{"x":-262,"n":1200},{"x":-250,"n":600},{"x":-240,"n":40},{"x":-236,"n":8}]},"mark":{"type":"rule","color":"#c9a44e","opacity":0.6,"strokeWidth":1},"encoding":{"x":{"field":"x","type":"quantitative"},"y":{"field":"n","type":"quantitative"},"y2":{"datum":1}}},
{"data":{"values":[{"x":-398,"X":-232,"n":2},{"x":-345,"X":-280,"n":3},{"x":-360,"X":-352,"n":2.8},{"x":-312,"X":-305,"n":3.5}]},"mark":{"type":"rect","fill":"#edb120"},"encoding":{"x":{"field":"x","type":"quantitative"},"x2":{"field":"X"},"y":{"field":"n","type":"quantitative"},"y2":{"datum":1}}}
]},
{"width":112,"height":1,"mark":"point"},
{"width":312,"height":214,"view":{"stroke":"#c8c8c8"},"title":{"text":["Count of contacts on elementary (ochre)","and 5 mm (blue) distances of Y axis"],"fontSize":15.5,"lineHeight":20,"offset":-6},
"layer":[
{"data":{"values":[{"x":-396,"n":302},{"x":-391,"n":195},{"x":-386,"n":575},{"x":-381,"n":1148},{"x":-376,"n":4677},{"x":-371,"n":1698},{"x":-366,"n":3236},{"x":-361,"n":3090},{"x":-356,"n":1622},{"x":-351,"n":1349},{"x":-346,"n":15136},{"x":-341,"n":3090},{"x":-336,"n":1479},{"x":-331,"n":1349},{"x":-326,"n":724},{"x":-321,"n":1950},{"x":-316,"n":1905},{"x":-311,"n":437},{"x":-306,"n":427},{"x":-301,"n":437},{"x":-296,"n":871},{"x":-291,"n":2042},{"x":-286,"n":74},{"x":-281,"n":66},{"x":-276,"n":68},{"x":-271,"n":65},{"x":-266,"n":62},{"x":-261,"n":63},{"x":-256,"n":60},{"x":-251,"n":60},{"x":-246,"n":59},{"x":-241,"n":60},{"x":-236,"n":60},{"x":-231,"n":60},{"x":-226,"n":60},{"x":-221,"n":60},{"x":-216,"n":59},{"x":-211,"n":60},{"x":-206,"n":60},{"x":-201,"n":60},{"x":-196,"n":60},{"x":-191,"n":60},{"x":-186,"n":60},{"x":-181,"n":60},{"x":-176,"n":61},{"x":-171,"n":61},{"x":-166,"n":61},{"x":-161,"n":63},{"x":-156,"n":64},{"x":-151,"n":68},{"x":-147,"n":2089},{"x":-142,"n":955},{"x":-137,"n":427},{"x":-132,"n":407},{"x":-127,"n":832},{"x":-122,"n":1349},{"x":-117,"n":1905},{"x":-112,"n":724},{"x":-107,"n":1413},{"x":-102,"n":1318},{"x":-97,"n":14791},{"x":-92,"n":3715},{"x":-87,"n":1585},{"x":-82,"n":1072},{"x":-77,"n":2692},{"x":-72,"n":3020},{"x":-67,"n":1585},{"x":-62,"n":4677},{"x":-57,"n":1047},{"x":-52,"n":1047},{"x":-47,"n":316},{"x":-42,"n":398},{"x":-37,"n":110},{"x":-32,"n":115},{"x":-27,"n":120},{"x":-22,"n":132},{"x":-17,"n":148},{"x":-12,"n":166},{"x":-7,"n":214},{"x":-2,"n":617},{"x":3,"n":6457},{"x":8,"n":209},{"x":13,"n":138},{"x":18,"n":115},{"x":23,"n":115},{"x":28,"n":117},{"x":33,"n":112},{"x":38,"n":105},{"x":43,"n":91},{"x":48,"n":105},{"x":53,"n":95},{"x":58,"n":100},{"x":63,"n":115},{"x":68,"n":117},{"x":73,"n":123},{"x":78,"n":126},{"x":83,"n":145},{"x":88,"n":162},{"x":93,"n":200},{"x":98,"n":617},{"x":103,"n":1862},{"x":108,"n":251},{"x":113,"n":182},{"x":118,"n":151},{"x":123,"n":148},{"x":128,"n":138},{"x":133,"n":135},{"x":138,"n":132},{"x":143,"n":132},{"x":148,"n":135},{"x":153,"n":138},{"x":158,"n":141},{"x":163,"n":148},{"x":168,"n":166},{"x":173,"n":170},{"x":178,"n":219},{"x":183,"n":302},{"x":188,"n":12300}]},"mark":{"type":"rect","width":2.4,"fill":"#64a6d5","stroke":"#3f7fae","strokeWidth":0.5},"encoding":{"x":{"field":"x","type":"quantitative","scale":{"domain":[-427.6,219.3],"nice":false,"zero":false},"axis":{"values":[-400,-200,0,200],"labelExpr":"''+datum.value","title":"Position Y [mm]","labelFontSize":15.5,"titleFontSize":15.5,"labelPadding":7,"titlePadding":4}},"y":{"field":"n","type":"quantitative","scale":{"type":"log","domain":[1,117800],"nice":false},"axis":{"values":[1,10,100,1000,10000,100000],"labelExpr":"datum.value==1?'10⁰':datum.value==100000?'10⁵':''","title":"Count [1]","labelFontSize":15.5,"titleFontSize":15.5,"labelPadding":4,"titlePadding":5}},"y2":{"datum":1}}},
{"data":{"values":[{"x":-385,"n":300},{"x":-380,"n":40},{"x":-375,"n":800},{"x":-370,"n":100},{"x":-365,"n":20},{"x":-358,"n":600},{"x":-352,"n":80},{"x":-347,"n":1000},{"x":-342,"n":30},{"x":-336,"n":500},{"x":-330,"n":100},{"x":-322,"n":500},{"x":-315,"n":30},{"x":-308,"n":200},{"x":-298,"n":500},{"x":-291,"n":700},{"x":-270,"n":8},{"x":-240,"n":6},{"x":-210,"n":9},{"x":-180,"n":8},{"x":-147,"n":700},{"x":-140,"n":100},{"x":-130,"n":300},{"x":-122,"n":500},{"x":-115,"n":40},{"x":-108,"n":300},{"x":-100,"n":1200},{"x":-93,"n":200},{"x":-85,"n":60},{"x":-78,"n":700},{"x":-70,"n":300},{"x":-62,"n":300},{"x":-55,"n":200},{"x":-47,"n":30},{"x":-30,"n":9},{"x":-15,"n":10},{"x":40,"n":12},{"x":100,"n":40},{"x":160,"n":12}]},"mark":{"type":"rule","color":"#c9a44e","opacity":0.7,"strokeWidth":1},"encoding":{"x":{"field":"x","type":"quantitative"},"y":{"field":"n","type":"quantitative"},"y2":{"datum":1}}},
{"data":{"values":[{"x":-388,"X":-290,"n":3},{"x":-380,"X":-350,"n":3.6},{"x":-352,"X":-345,"n":5.5},{"x":-345,"X":-300,"n":3.6},{"x":-290,"X":-150,"n":3},{"x":-150,"X":-5,"n":4},{"x":-100,"X":-60,"n":5.5},{"x":-5,"X":8,"n":14},{"x":8,"X":185,"n":7},{"x":185,"X":190,"n":17}]},"mark":{"type":"rect","fill":"#edb120"},"encoding":{"x":{"field":"x","type":"quantitative"},"x2":{"field":"X"},"y":{"field":"n","type":"quantitative"},"y2":{"datum":1}}}
]},
{"width":111,"height":1,"mark":"point"},
{"width":316,"height":213,"view":{"stroke":"#c8c8c8"},"title":{"text":["Count of contacts on elementary (ochre)","and 5 mm (blue) distances of Z axis"],"fontSize":15.5,"lineHeight":20,"offset":-5},
"layer":[
{"data":{"values":[{"x":-342.3,"n":533},{"x":-337.3,"n":487},{"x":-332.3,"n":1334},{"x":-327.3,"n":1219},{"x":-322.3,"n":1910},{"x":-317.3,"n":3587},{"x":-312.3,"n":2738},{"x":-307.3,"n":2415},{"x":-302.3,"n":711},{"x":-297.3,"n":11143},{"x":-292.3,"n":9305},{"x":-287.3,"n":7499},{"x":-282.3,"n":5834},{"x":-277.3,"n":3786},{"x":-272.3,"n":1746},{"x":-267.3,"n":1910},{"x":-262.3,"n":2329},{"x":-257.3,"n":6494},{"x":-252.3,"n":4295},{"x":-247.3,"n":3336},{"x":-242.3,"n":851},{"x":-237.3,"n":225},{"x":-232.3,"n":9484},{"x":-227.3,"n":407},{"x":-222.3,"n":615},{"x":-217.3,"n":213},{"x":-212.3,"n":1019},{"x":-207.3,"n":165},{"x":-202.3,"n":165},{"x":-197.3,"n":736},{"x":-192.3,"n":124},{"x":-187.3,"n":117},{"x":-182.3,"n":120},{"x":-177.3,"n":131},{"x":-172.3,"n":407},{"x":-167.3,"n":120},{"x":-162.3,"n":138},{"x":-157.3,"n":359},{"x":-152.3,"n":108},{"x":-147.3,"n":108},{"x":-142.3,"n":104},{"x":-137.3,"n":111},{"x":-132.3,"n":122},{"x":-127.3,"n":129},{"x":-122.3,"n":154},{"x":-117.3,"n":195},{"x":-112.3,"n":17140},{"x":-107.3,"n":1000},{"x":-102.3,"n":711},{"x":-97.3,"n":264},{"x":-92.3,"n":246},{"x":-87.3,"n":233},{"x":-82.3,"n":513},{"x":-77.3,"n":209},{"x":-72.3,"n":453},{"x":-67.3,"n":209},{"x":-62.3,"n":217},{"x":-57.3,"n":255},{"x":-52.3,"n":6151},{"x":-47.3,"n":66},{"x":-42.3,"n":79},{"x":-37.3,"n":83},{"x":-32.3,"n":87},{"x":-27.3,"n":91},{"x":-22.3,"n":110},{"x":-17.3,"n":126},{"x":-12.3,"n":141},{"x":-7.3,"n":198},{"x":-2.3,"n":8204}]},"mark":{"type":"rect","width":4.2,"fill":"#64a6d5","stroke":"#3f7fae","strokeWidth":0.6},"encoding":{"x":{"field":"x","type":"quantitative","scale":{"domain":[-360.8,18],"nice":false,"zero":false},"axis":{"values":[-300,-200,-100,0],"labelExpr":"''+datum.value","title":"Position Z [mm]","labelFontSize":15.5,"titleFontSize":15.5,"labelPadding":7,"titlePadding":4}},"y":{"field":"n","type":"quantitative","scale":{"type":"log","domain":[1,100000],"nice":false},"axis":{"values":[1,10,100,1000,10000,100000],"labelExpr":"datum.value==1?'10⁰':datum.value==100000?'10⁵':''","title":"Count [1]","labelFontSize":15.5,"titleFontSize":15.5,"labelPadding":4,"titlePadding":5}},"y2":{"datum":1}}},
{"data":{"values":[{"x":-343,"n":50},{"x":-335,"n":10},{"x":-322,"n":20},{"x":-310,"n":15},{"x":-298,"n":1500},{"x":-291,"n":60},{"x":-283,"n":80},{"x":-270,"n":40},{"x":-262,"n":30},{"x":-250,"n":300},{"x":-240,"n":15},{"x":-230,"n":30},{"x":-215,"n":20},{"x":-195,"n":20},{"x":-175,"n":15},{"x":-155,"n":15},{"x":-130,"n":12},{"x":-105,"n":40},{"x":-92,"n":40},{"x":-72,"n":30},{"x":-60,"n":100},{"x":-50,"n":60},{"x":-25,"n":12},{"x":-1,"n":2500}]},"mark":{"type":"rule","color":"#c9a44e","opacity":0.7,"strokeWidth":1},"encoding":{"x":{"field":"x","type":"quantitative"},"y":{"field":"n","type":"quantitative"},"y2":{"datum":1}}},
{"data":{"values":[{"x":-344,"X":-335,"n":2},{"x":-335,"X":-320,"n":3},{"x":-320,"X":-308,"n":5},{"x":-308,"X":-300,"n":2.2},{"x":-300,"X":-287,"n":7},{"x":-287,"X":-284,"n":13},{"x":-284,"X":-260,"n":8},{"x":-260,"X":-245,"n":10},{"x":-245,"X":-215,"n":4},{"x":-215,"X":-115,"n":2},{"x":-115,"X":-55,"n":11},{"x":-55,"X":0,"n":5}]},"mark":{"type":"rect","fill":"#edb120"},"encoding":{"x":{"field":"x","type":"quantitative"},"x2":{"field":"X"},"y":{"field":"n","type":"quantitative"},"y2":{"datum":1}}}
]}
]},
{"width":1,"height":8,"mark":"point"},
{"bounds":"flush","spacing":0,"align":"none","center":false,"hconcat":[
{"width":54,"height":1,"mark":"point"},
{"width":267,"height":191,"view":{"stroke":"#c8c8c8"},"title":{"text":["Count of accelerations of X axis","on 5 mm distances of X axis"],"fontSize":14.5,"lineHeight":18,"offset":-6},
"layer":[
{"data":{"values":[{"x":-406.7,"X":-221.9,"y":-7.66,"Y":7.6,"v":0}]},"mark":{"type":"rect"},"encoding":{"x":{"field":"x","type":"quantitative","scale":{"domain":[-410,-219.5],"nice":false,"zero":false},"axis":{"values":[-400,-350,-300,-250],"labelExpr":"''+datum.value","title":"Position X [mm]","labelFontSize":14.5,"titleFontSize":14.2,"labelPadding":7,"titlePadding":5}},"x2":{"field":"X"},"y":{"field":"y","type":"quantitative","scale":{"domain":[-10,10],"nice":false},"axis":{"values":[-10,-5,0,5,10],"labelExpr":"''+datum.value","title":"Acceleration [m/s²]","labelFontSize":14.5,"titleFontSize":14,"labelPadding":4,"titlePadding":0}},"y2":{"field":"Y"},"color":{"field":"v","type":"quantitative","legend":null,"scale":{"domain":[0,0.53,1.07,1.6,2.13,2.67,3.2,3.73,4.27],"range":["#00007f","#0000ff","#007fff","#00ffff","#7fff7f","#ffff00","#ff7f00","#ff0000","#7f0000"]}}}},
{"data":{"values":[{"x":-404,"y":2.5,"Y":5.2,"v":0.5},{"x":-404,"y":0.3,"Y":2.3,"v":1.1},{"x":-398.8,"y":5,"Y":6.4,"v":0.6},{"x":-398.8,"y":2.3,"Y":5,"v":0.4},{"x":-398.8,"y":1.2,"Y":2.3,"v":1.1},{"x":-393.5,"y":3,"Y":6.6,"v":0.7},{"x":-393.5,"y":1.2,"Y":2.4,"v":1.4},{"x":-393.5,"y":0.3,"Y":1.2,"v":1.2},{"x":-388.2,"y":5.5,"Y":6.6,"v":0.7},{"x":-388.2,"y":2.8,"Y":5.5,"v":0.6},{"x":-388.2,"y":0.9,"Y":2.8,"v":1.4},{"x":-388.2,"y":0.2,"Y":0.9,"v":1.1},{"x":-383,"y":6,"Y":6.9,"v":0.6},{"x":-383,"y":3,"Y":6,"v":0.8},{"x":-383,"y":1,"Y":3,"v":1.3},{"x":-383,"y":0.2,"Y":1,"v":1.6},{"x":-377.7,"y":5.5,"Y":7.6,"v":1.2},{"x":-377.7,"y":1.5,"Y":5.5,"v":0.9},{"x":-377.7,"y":0.2,"Y":1.5,"v":1.5},{"x":-372.4,"y":5,"Y":7.6,"v":1.2},{"x":-372.4,"y":2,"Y":5,"v":0.8},{"x":-372.4,"y":0.2,"Y":2,"v":1.2},{"x":-367.1,"y":2.5,"Y":6.3,"v":1},{"x":-367.1,"y":0.2,"Y":2.5,"v":1.3},{"x":-361.9,"y":2.8,"Y":6.6,"v":0.9},{"x":-361.9,"y":0.2,"Y":2.8,"v":1.2},{"x":-356.6,"y":2.5,"Y":6,"v":0.7},{"x":-356.6,"y":0.2,"Y":2.5,"v":1.3},{"x":-351.3,"y":5,"Y":6.3,"v":0.7},{"x":-351.3,"y":2.2,"Y":4,"v":0.9},{"x":-351.3,"y":0.2,"Y":2.2,"v":1.8},{"x":-346,"y":3.2,"Y":6,"v":0.7},{"x":-346,"y":1.5,"Y":3.2,"v":1.5},{"x":-346,"y":0.2,"Y":1.5,"v":1.9},{"x":-340.8,"y":2.5,"Y":3.5,"v":1.5},{"x":-340.8,"y":1.5,"Y":2.5,"v":2},{"x":-340.8,"y":0.2,"Y":1.5,"v":1.6},{"x":-335.5,"y":5,"Y":6.2,"v":0.8},{"x":-335.5,"y":3,"Y":4.5,"v":0.9},{"x":-335.5,"y":2,"Y":3,"v":1.1},{"x":-335.5,"y":0.2,"Y":2,"v":1.6},{"x":-330.2,"y":6,"Y":6.5,"v":0.6},{"x":-330.2,"y":1.8,"Y":4,"v":1.1},{"x":-330.2,"y":0.2,"Y":1.8,"v":1.6},{"x":-324.9,"y":2,"Y":6,"v":1},{"x":-324.9,"y":0.2,"Y":2,"v":1.7},{"x":-319.7,"y":1,"Y":5.6,"v":1},{"x":-319.7,"y":0.2,"Y":1,"v":1.8},{"x":-314.4,"y":5.5,"Y":7,"v":0.8},{"x":-314.4,"y":3,"Y":5.5,"v":1},{"x":-314.4,"y":0.2,"Y":3,"v":1.4},{"x":-309.1,"y":4,"Y":7.6,"v":1.4},{"x":-309.1,"y":0.2,"Y":3,"v":1.3},{"x":-303.8,"y":3.5,"Y":6.8,"v":1.2},{"x":-303.8,"y":0.2,"Y":3,"v":1.5},{"x":-298.6,"y":5,"Y":7.6,"v":0.8},{"x":-298.6,"y":0.2,"Y":2.5,"v":1.4},{"x":-293.3,"y":1,"Y":3,"v":0.9},{"x":-293.3,"y":0.2,"Y":1,"v":1.6},{"x":-288,"y":0.2,"Y":1.5,"v":1.7},{"x":-282.7,"y":4,"Y":5.6,"v":0.9},{"x":-282.7,"y":1.5,"Y":4,"v":0.7},{"x":-282.7,"y":0.2,"Y":1.5,"v":1.6},{"x":-277.5,"y":3,"Y":5.6,"v":1.2},{"x":-277.5,"y":0.2,"Y":1.5,"v":1.2},{"x":-272.2,"y":2.5,"Y":5.2,"v":1.3},{"x":-272.2,"y":0.2,"Y":1,"v":1},{"x":-266.9,"y":1.8,"Y":3,"v":1},{"x":-266.9,"y":0.2,"Y":1,"v":1},{"x":-261.6,"y":0.2,"Y":1.2,"v":0.9},{"x":-256.4,"y":0.2,"Y":0.8,"v":0.9},{"x":-251.1,"y":0.2,"Y":0.8,"v":0.7},{"x":-245.8,"y":0.2,"Y":0.6,"v":0.6},
{"x":-383,"y":-1.2,"Y":-0.7,"v":1.3},{"x":-377.7,"y":-1.3,"Y":-0.7,"v":1.3},{"x":-372.4,"y":-1.8,"Y":-0.7,"v":1},{"x":-367.1,"y":-3,"Y":-0.7,"v":1},{"x":-361.9,"y":-4.5,"Y":-0.7,"v":0.9},{"x":-361.9,"y":-5.5,"Y":-4.5,"v":0.6},{"x":-356.6,"y":-5.4,"Y":-4,"v":1.4},{"x":-356.6,"y":-2,"Y":-0.7,"v":1.2},{"x":-351.3,"y":-5.5,"Y":-3,"v":1},{"x":-351.3,"y":-3,"Y":-0.7,"v":1.4},{"x":-346,"y":-5,"Y":-3,"v":0.8},{"x":-346,"y":-3,"Y":-0.7,"v":1.5},{"x":-340.8,"y":-6,"Y":-2,"v":0.8},{"x":-340.8,"y":-2,"Y":-0.7,"v":1.3},{"x":-335.5,"y":-6.3,"Y":-3,"v":0.9},{"x":-335.5,"y":-3,"Y":-0.7,"v":1.3},{"x":-330.2,"y":-7,"Y":-4.5,"v":1.2},{"x":-330.2,"y":-4.5,"Y":-3,"v":0.8},{"x":-330.2,"y":-3,"Y":-0.7,"v":1.7},{"x":-324.9,"y":-7.1,"Y":-4.5,"v":1},{"x":-324.9,"y":-4.5,"Y":-0.7,"v":1.4},{"x":-319.7,"y":-7.6,"Y":-5,"v":0.9},{"x":-319.7,"y":-3.5,"Y":-0.7,"v":1.3},{"x":-314.4,"y":-7.6,"Y":-5,"v":0.7},{"x":-314.4,"y":-5,"Y":-3.5,"v":0.9},{"x":-314.4,"y":-3.5,"Y":-0.7,"v":1.8},{"x":-309.1,"y":-6.5,"Y":-4,"v":0.8},{"x":-309.1,"y":-4,"Y":-0.7,"v":1.5},{"x":-303.8,"y":-7.6,"Y":-5.5,"v":0.9},{"x":-303.8,"y":-3.5,"Y":-0.7,"v":1.6},{"x":-298.6,"y":-7.6,"Y":-5.5,"v":1},{"x":-298.6,"y":-3.5,"Y":-0.7,"v":1.8},{"x":-293.3,"y":-7.6,"Y":-4,"v":0.9},{"x":-293.3,"y":-4,"Y":-0.7,"v":1.9},{"x":-288,"y":-7.1,"Y":-4,"v":0.8},{"x":-288,"y":-3,"Y":-0.7,"v":1.5},{"x":-282.7,"y":-7.2,"Y":-3,"v":0.8},{"x":-282.7,"y":-3,"Y":-0.7,"v":1.6},{"x":-277.5,"y":-7.2,"Y":-5,"v":0.6},{"x":-277.5,"y":-3.5,"Y":-0.7,"v":1.2},{"x":-272.2,"y":-7,"Y":-4,"v":1.1},{"x":-272.2,"y":-3.5,"Y":-0.7,"v":1.3},{"x":-266.9,"y":-7.6,"Y":-4,"v":1.1},{"x":-266.9,"y":-2.5,"Y":-0.7,"v":1.2},{"x":-261.6,"y":-7.6,"Y":-4.5,"v":1},{"x":-261.6,"y":-3,"Y":-0.7,"v":1.3},{"x":-256.4,"y":-7.6,"Y":-4,"v":0.9},{"x":-256.4,"y":-4,"Y":-1.5,"v":1.4},{"x":-251.1,"y":-7.6,"Y":-5,"v":1},{"x":-251.1,"y":-5,"Y":-1.5,"v":1},{"x":-245.8,"y":-7.3,"Y":-5,"v":1},{"x":-245.8,"y":-2,"Y":-0.7,"v":1.1},{"x":-240.5,"y":-7,"Y":-6,"v":1},{"x":-240.5,"y":-6,"Y":-5,"v":1.5},{"x":-240.5,"y":-5,"Y":-0.7,"v":1},{"x":-235.3,"y":-6.5,"Y":-5.5,"v":1},{"x":-230,"y":-6,"Y":-0.7,"v":0.9},{"x":-224.7,"y":-6,"Y":-0.7,"v":0.9},
{"x":-404,"y":-0.7,"Y":0.22,"v":2.7},{"x":-398.8,"y":-0.7,"Y":0.22,"v":2.7},{"x":-393.5,"y":-0.7,"Y":0.22,"v":3.3},{"x":-388.2,"y":-0.7,"Y":0.22,"v":2.5},{"x":-383,"y":-0.7,"Y":0.22,"v":3.3},{"x":-377.7,"y":-0.7,"Y":0.22,"v":3.2},{"x":-372.4,"y":-0.7,"Y":0.22,"v":2.7},{"x":-367.1,"y":-0.7,"Y":0.22,"v":3.7},{"x":-361.9,"y":-0.7,"Y":0.22,"v":2.7},{"x":-356.6,"y":-0.7,"Y":0.22,"v":2.7},{"x":-351.3,"y":-0.7,"Y":0.22,"v":3.7},{"x":-346,"y":-0.7,"Y":0.22,"v":4.2},{"x":-340.8,"y":-0.7,"Y":0.22,"v":3.3},{"x":-335.5,"y":-0.7,"Y":0.22,"v":3.1},{"x":-330.2,"y":-0.7,"Y":0.22,"v":3.7},{"x":-324.9,"y":-0.7,"Y":0.22,"v":3.7},{"x":-319.7,"y":-0.7,"Y":0.22,"v":3.5},{"x":-314.4,"y":-0.7,"Y":0.22,"v":3.4},{"x":-309.1,"y":-0.7,"Y":0.22,"v":3.7},{"x":-303.8,"y":-0.7,"Y":0.22,"v":3},{"x":-298.6,"y":-0.7,"Y":0.22,"v":3.4},{"x":-293.3,"y":-0.7,"Y":0.22,"v":3.3},{"x":-288,"y":-0.7,"Y":0.22,"v":4},{"x":-282.7,"y":-0.7,"Y":0.22,"v":3.9},{"x":-277.5,"y":-0.7,"Y":0.22,"v":2.7},{"x":-272.2,"y":-0.7,"Y":0.22,"v":2.7},{"x":-266.9,"y":-0.7,"Y":0.22,"v":3.4},{"x":-261.6,"y":-0.7,"Y":0.22,"v":2.8},{"x":-256.4,"y":-0.7,"Y":0.22,"v":3.3},{"x":-251.1,"y":-0.7,"Y":0.22,"v":3.4},{"x":-245.8,"y":-0.7,"Y":0.22,"v":2.7},{"x":-240.5,"y":-0.7,"Y":0.22,"v":3.7},{"x":-235.3,"y":-0.7,"Y":0.22,"v":2.7},{"x":-230,"y":-0.7,"Y":0.22,"v":2.7},{"x":-224.7,"y":-0.7,"Y":0.22,"v":2.7}]},"mark":{"type":"rect","width":7.4},"encoding":{"x":{"field":"x","type":"quantitative"},"y":{"field":"y","type":"quantitative"},"y2":{"field":"Y"},"color":{"field":"v","type":"quantitative","legend":null}}}
]},
{"width":5,"height":1,"mark":"point"},
{"width":6,"height":191,"data":{"values":[{"lo":0,"hi":4.27}]},"mark":{"type":"rect","fill":{"gradient":"linear","x1":0,"y1":1,"x2":0,"y2":0,"stops":[{"offset":0,"color":"#00007f"},{"offset":0.125,"color":"#0000ff"},{"offset":0.25,"color":"#007fff"},{"offset":0.375,"color":"#00ffff"},{"offset":0.5,"color":"#7fff7f"},{"offset":0.625,"color":"#ffff00"},{"offset":0.75,"color":"#ff7f00"},{"offset":0.875,"color":"#ff0000"},{"offset":1,"color":"#7f0000"}]}},"encoding":{"y":{"field":"lo","type":"quantitative","scale":{"domain":[0,4.27],"nice":false},"axis":{"orient":"right","grid":false,"values":[0,1,2,3,4],"title":"log₁₀(1+Count) [1]","titleAngle":270,"labelFontSize":14.5,"titleFontSize":14,"labelPadding":3,"titlePadding":18}},"y2":{"field":"hi"}}},
{"width":146,"height":1,"mark":"point"},
{"width":255,"height":190,"view":{"stroke":"#c8c8c8"},"title":{"text":["Count of accelerations of Y axis","on 5 mm distances of Y axis"],"fontSize":14.5,"lineHeight":18,"offset":-6},
"layer":[
{"data":{"values":[{"x":-401.5,"X":193.7,"y":-10.5,"Y":10.66,"v":0}]},"mark":{"type":"rect"},"encoding":{"x":{"field":"x","type":"quantitative","scale":{"domain":[-401.5,200],"nice":false,"zero":false},"axis":{"values":[-400,-200,0,200],"labelExpr":"''+datum.value","title":"Position X [mm]","labelFontSize":14.5,"titleFontSize":14.2,"labelPadding":7,"titlePadding":5}},"x2":{"field":"X"},"y":{"field":"y","type":"quantitative","scale":{"domain":[-15,15],"nice":false},"axis":{"values":[-15,-10,-5,0,5,10,15],"labelExpr":"''+datum.value","title":"Acceleration [m/s²]","labelFontSize":14.5,"titleFontSize":14,"labelPadding":4,"titlePadding":0}},"y2":{"field":"Y"},"color":{"field":"v","type":"quantitative","legend":null,"scale":{"domain":[0,0.53,1.07,1.6,2.13,2.67,3.2,3.73,4.27],"range":["#00007f","#0000ff","#007fff","#00ffff","#7fff7f","#ffff00","#ff7f00","#ff0000","#7f0000"]}}}},
{"data":{"values":[{"x":-378,"y":0.5,"Y":9.5,"v":0.6},{"x":-366,"y":0.5,"Y":10,"v":0.7},{"x":-352,"y":0.5,"Y":10,"v":0.65},{"x":-338,"y":0.5,"Y":9,"v":0.6},{"x":-322,"y":0.5,"Y":8,"v":0.6},{"x":-375,"y":-1.5,"Y":2,"v":1.6},{"x":-350,"y":-1.5,"Y":2,"v":1.6},{"x":-330,"y":-1.5,"Y":2,"v":1.5},{"x":-145,"y":0.5,"Y":8.5,"v":0.7},{"x":-130,"y":0.5,"Y":8,"v":0.7},{"x":-120,"y":0.5,"Y":7,"v":0.7},{"x":-110,"y":0.5,"Y":8,"v":0.6},{"x":-125,"y":-1.5,"Y":2,"v":1.5},{"x":-95,"y":-1.5,"Y":2,"v":1.5},{"x":-90,"y":-9,"Y":8,"v":0.9},{"x":-60,"y":-5,"Y":9.5,"v":0.8},{"x":0,"y":-9,"Y":8,"v":1.5},{"x":95,"y":-8,"Y":8.7,"v":1.3},{"x":100,"y":0,"Y":8.7,"v":1.2},{"x":187,"y":-6.3,"Y":-0.5,"v":1.6},
{"x":-400,"y":-0.5,"Y":0.5,"v":2.7},{"x":-390,"y":-0.5,"Y":0.5,"v":3},{"x":-380,"y":-0.5,"Y":0.5,"v":3.5},{"x":-370,"y":-0.5,"Y":0.5,"v":3.7},{"x":-360,"y":-0.5,"Y":0.5,"v":3.3},{"x":-350,"y":-0.5,"Y":0.5,"v":4.1},{"x":-340,"y":-0.5,"Y":0.5,"v":3.2},{"x":-330,"y":-0.5,"Y":0.5,"v":3},{"x":-320,"y":-0.5,"Y":0.5,"v":3.2},{"x":-310,"y":-0.5,"Y":0.5,"v":2.8},{"x":-300,"y":-0.5,"Y":0.5,"v":2.7},{"x":-290,"y":-0.5,"Y":0.5,"v":3.3},{"x":-280,"y":-0.5,"Y":0.5,"v":1.4},{"x":-270,"y":-0.5,"Y":0.5,"v":1.2},{"x":-260,"y":-0.5,"Y":0.5,"v":1.2},{"x":-250,"y":-0.5,"Y":0.5,"v":1.2},{"x":-240,"y":-0.5,"Y":0.5,"v":1.2},{"x":-230,"y":-0.5,"Y":0.5,"v":1.3},{"x":-220,"y":-0.5,"Y":0.5,"v":1.3},{"x":-210,"y":-0.5,"Y":0.5,"v":1.4},{"x":-200,"y":-0.5,"Y":0.5,"v":1.4},{"x":-190,"y":-0.5,"Y":0.5,"v":1.4},{"x":-180,"y":-0.5,"Y":0.5,"v":1.4},{"x":-170,"y":-0.5,"Y":0.5,"v":1.4},{"x":-160,"y":-0.5,"Y":0.5,"v":1.4},{"x":-150,"y":-0.5,"Y":0.5,"v":3.2},{"x":-140,"y":-0.5,"Y":0.5,"v":2.6},{"x":-130,"y":-0.5,"Y":0.5,"v":2.7},{"x":-120,"y":-0.5,"Y":0.5,"v":3.1},{"x":-110,"y":-0.5,"Y":0.5,"v":3.2},{"x":-100,"y":-0.5,"Y":0.5,"v":4},{"x":-90,"y":-0.5,"Y":0.5,"v":3.6},{"x":-80,"y":-0.5,"Y":0.5,"v":3.4},{"x":-70,"y":-0.5,"Y":0.5,"v":3.5},{"x":-60,"y":-0.5,"Y":0.5,"v":3.4},{"x":-50,"y":-0.5,"Y":0.5,"v":2.7},{"x":-40,"y":-0.5,"Y":0.5,"v":2.5},{"x":-30,"y":-0.5,"Y":0.5,"v":1.4},{"x":-20,"y":-0.5,"Y":0.5,"v":1.4},{"x":-10,"y":-0.5,"Y":0.5,"v":1.4},{"x":0,"y":-0.5,"Y":0.5,"v":3.8},{"x":100,"y":-0.5,"Y":0.5,"v":3},{"x":187,"y":-0.5,"Y":0.5,"v":3.8}]},"mark":{"type":"rect","width":4.4},"encoding":{"x":{"field":"x","type":"quantitative"},"y":{"field":"y","type":"quantitative"},"y2":{"field":"Y"},"color":{"field":"v","type":"quantitative","legend":null}}},
{"data":{"values":[{"c":1,"x":-350,"y":9,"v":1.3},{"c":1,"x":-340,"y":9,"v":1.3},{"c":1,"x":-320,"y":9,"v":1.3},{"c":1,"x":-300,"y":9,"v":1.3},{"c":1,"x":-290,"y":8.5,"v":1.3},{"c":1,"x":-280,"y":7.5,"v":1.3},{"c":2,"x":-280,"y":7.5,"v":1.05},{"c":2,"x":-270,"y":6,"v":1.05},{"c":2,"x":-260,"y":4.5,"v":1.05},{"c":2,"x":-250,"y":3,"v":1.05},{"c":2,"x":-240,"y":1.5,"v":1.05},{"c":2,"x":-230,"y":0.2,"v":1.05},{"c":2,"x":-220,"y":-1.5,"v":1.05},{"c":2,"x":-210,"y":-3,"v":1.05},{"c":2,"x":-200,"y":-5,"v":1.05},{"c":2,"x":-190,"y":-7,"v":1.05},{"c":2,"x":-180,"y":-8,"v":1.05},{"c":3,"x":-180,"y":-8,"v":1.4},{"c":3,"x":-170,"y":-8.8,"v":1.4},{"c":3,"x":-160,"y":-9,"v":1.4},{"c":3,"x":-140,"y":-9,"v":1.4},{"c":3,"x":-120,"y":-9,"v":1.4},{"c":3,"x":-110,"y":-9,"v":1.4},{"c":4,"x":-340,"y":10,"v":1},{"c":4,"x":-320,"y":10,"v":1},{"c":4,"x":-300,"y":9.8,"v":1},{"c":4,"x":-290,"y":9,"v":1},{"c":4,"x":-280,"y":8.3,"v":1},{"c":4,"x":-265,"y":7.5,"v":1},{"c":4,"x":-255,"y":5,"v":1},{"c":4,"x":-245,"y":3.5,"v":1},{"c":4,"x":-235,"y":2,"v":1},{"c":4,"x":-225,"y":0.9,"v":1},{"c":5,"x":-300,"y":7.5,"v":0.85},{"c":5,"x":-290,"y":6,"v":0.85},{"c":5,"x":-280,"y":4.5,"v":0.85},{"c":5,"x":-270,"y":3,"v":0.85},{"c":5,"x":-260,"y":1.5,"v":0.85},{"c":5,"x":-240,"y":-1.5,"v":0.85},{"c":5,"x":-230,"y":-3,"v":0.85},{"c":5,"x":-220,"y":-5,"v":0.85},{"c":5,"x":-210,"y":-7,"v":0.85},{"c":5,"x":-200,"y":-8.5,"v":0.85},{"c":5,"x":-190,"y":-9.5,"v":0.85},{"c":5,"x":-180,"y":-10,"v":0.85},{"c":5,"x":-120,"y":-10,"v":0.85},{"c":6,"x":-320,"y":7,"v":0.75},{"c":6,"x":-310,"y":6,"v":0.75},{"c":6,"x":-300,"y":4.5,"v":0.75},{"c":6,"x":-290,"y":3,"v":0.75},{"c":6,"x":-280,"y":1.5,"v":0.75},{"c":6,"x":-260,"y":-2,"v":0.75},{"c":6,"x":-250,"y":-4,"v":0.75},{"c":6,"x":-240,"y":-6,"v":0.75},{"c":6,"x":-230,"y":-8,"v":0.75},{"c":6,"x":-220,"y":-9,"v":0.75},{"c":6,"x":-210,"y":-9.5,"v":0.75},{"c":7,"x":-378,"y":-1,"v":0.8},{"c":7,"x":-370,"y":-3,"v":0.8},{"c":7,"x":-360,"y":-4,"v":0.8},{"c":7,"x":-350,"y":-5,"v":0.8},{"c":7,"x":-340,"y":-6,"v":0.8},{"c":7,"x":-330,"y":-7,"v":0.8},{"c":7,"x":-320,"y":-7.5,"v":0.8},{"c":7,"x":-310,"y":-8,"v":0.8},{"c":7,"x":-300,"y":-8.5,"v":0.8},{"c":8,"x":-92,"y":1,"v":1.3},{"c":8,"x":-90,"y":6,"v":1.3},{"c":8,"x":-85,"y":8.5,"v":1.3},{"c":8,"x":-75,"y":8.8,"v":1.3},{"c":8,"x":-65,"y":8.5,"v":1.3},{"c":8,"x":-55,"y":7,"v":1.3},{"c":8,"x":-45,"y":5,"v":1.3},{"c":8,"x":-35,"y":2.5,"v":1.3},{"c":8,"x":-25,"y":0.5,"v":1.3},{"c":9,"x":-120,"y":7,"v":1.15},{"c":9,"x":-110,"y":4.5,"v":1.15},{"c":9,"x":-100,"y":2,"v":1.15},{"c":9,"x":-90,"y":-2,"v":1.15},{"c":9,"x":-80,"y":-4.5,"v":1.15},{"c":9,"x":-70,"y":-6.5,"v":1.15},{"c":9,"x":-60,"y":-8,"v":1.15},{"c":9,"x":-50,"y":-9.5,"v":1.15},{"c":9,"x":-40,"y":-9.5,"v":1.15},{"c":9,"x":-30,"y":-9,"v":1.15},{"c":9,"x":-20,"y":-9,"v":1.15},{"c":9,"x":-10,"y":-9.3,"v":1.15},{"c":10,"x":-85,"y":0,"v":1.35},{"c":10,"x":-75,"y":-1,"v":1.35},{"c":10,"x":-65,"y":-3,"v":1.35},{"c":10,"x":-55,"y":-5,"v":1.35},{"c":10,"x":-45,"y":-7,"v":1.35},{"c":10,"x":-35,"y":-8.5,"v":1.35},{"c":10,"x":-25,"y":-9.5,"v":1.35},{"c":10,"x":-15,"y":-10,"v":1.35},{"c":10,"x":-5,"y":-10,"v":1.35},{"c":11,"x":-60,"y":9,"v":0.9},{"c":11,"x":-50,"y":7.5,"v":0.9},{"c":11,"x":-40,"y":5,"v":0.9},{"c":11,"x":-30,"y":2,"v":0.9},{"c":11,"x":-20,"y":-1,"v":0.9},{"c":11,"x":-10,"y":-4,"v":0.9},{"c":11,"x":-5,"y":-7,"v":0.9},{"c":12,"x":0,"y":7.5,"v":1.4},{"c":12,"x":5,"y":8,"v":1.4},{"c":12,"x":10,"y":8.5,"v":1.4},{"c":12,"x":15,"y":8.8,"v":1.4},{"c":12,"x":20,"y":8.3,"v":1.4},{"c":12,"x":25,"y":7,"v":1.4},{"c":12,"x":30,"y":5.5,"v":1.4},{"c":12,"x":35,"y":4.5,"v":1.4},{"c":12,"x":40,"y":2.5,"v":1.4},{"c":12,"x":45,"y":1,"v":1.4},{"c":12,"x":50,"y":-0.5,"v":1.4},{"c":12,"x":55,"y":-2,"v":1.4},{"c":12,"x":60,"y":-4,"v":1.4},{"c":12,"x":65,"y":-6,"v":1.4},{"c":12,"x":70,"y":-7.5,"v":1.4},{"c":12,"x":75,"y":-8.3,"v":1.4},{"c":12,"x":80,"y":-8.5,"v":1.4},{"c":12,"x":85,"y":-8.3,"v":1.4},{"c":12,"x":90,"y":-7,"v":1.4},{"c":13,"x":5,"y":6,"v":1.1},{"c":13,"x":10,"y":5,"v":1.1},{"c":13,"x":20,"y":3,"v":1.1},{"c":13,"x":30,"y":0,"v":1.1},{"c":13,"x":40,"y":-3,"v":1.1},{"c":13,"x":50,"y":-3.7,"v":1.1},{"c":13,"x":60,"y":-3,"v":1.1},{"c":13,"x":70,"y":-2,"v":1.1},{"c":13,"x":80,"y":-1.5,"v":1.1},{"c":13,"x":90,"y":-2,"v":1.1},{"c":14,"x":20,"y":8,"v":1},{"c":14,"x":30,"y":6.5,"v":1},{"c":14,"x":40,"y":4,"v":1},{"c":14,"x":50,"y":1,"v":1},{"c":14,"x":60,"y":-2,"v":1},{"c":14,"x":70,"y":-5,"v":1},{"c":14,"x":80,"y":-7,"v":1},{"c":15,"x":108,"y":3.8,"v":1.3},{"c":15,"x":115,"y":3.3,"v":1.3},{"c":15,"x":120,"y":3,"v":1.3},{"c":15,"x":130,"y":1.5,"v":1.3},{"c":15,"x":140,"y":0,"v":1.3},{"c":15,"x":150,"y":-1.5,"v":1.3},{"c":15,"x":160,"y":-3,"v":1.3},{"c":15,"x":170,"y":-5,"v":1.3},{"c":15,"x":175,"y":-7,"v":1.3},{"c":15,"x":180,"y":-8.5,"v":1.3},{"c":16,"x":108,"y":-0.3,"v":1.2},{"c":16,"x":120,"y":-0.5,"v":1.2},{"c":16,"x":130,"y":-1,"v":1.2},{"c":16,"x":140,"y":-2,"v":1.2},{"c":16,"x":150,"y":-3,"v":1.2},{"c":16,"x":160,"y":-4.5,"v":1.2},{"c":16,"x":170,"y":-6.5,"v":1.2},{"c":16,"x":180,"y":-8.8,"v":1.2},{"c":17,"x":115,"y":2,"v":1.12},{"c":17,"x":125,"y":0.5,"v":1.12},{"c":17,"x":135,"y":1.5,"v":1.12},{"c":17,"x":145,"y":0,"v":1.12},{"c":17,"x":155,"y":-1,"v":1.12},{"c":17,"x":165,"y":-3,"v":1.12},{"c":17,"x":175,"y":-5.5,"v":1.12},{"c":17,"x":180,"y":-6,"v":1.12}]},"mark":{"type":"line","strokeWidth":3.2,"interpolate":"monotone"},"encoding":{"x":{"field":"x","type":"quantitative"},"y":{"field":"y","type":"quantitative"},"detail":{"field":"c"},"color":{"field":"v","type":"quantitative","legend":null}}}
]},
{"width":15,"height":1,"mark":"point"},
{"width":6,"height":190,"data":{"values":[{"lo":0,"hi":4.15}]},"mark":{"type":"rect","fill":{"gradient":"linear","x1":0,"y1":1,"x2":0,"y2":0,"stops":[{"offset":0,"color":"#00007f"},{"offset":0.125,"color":"#0000ff"},{"offset":0.25,"color":"#007fff"},{"offset":0.375,"color":"#00ffff"},{"offset":0.5,"color":"#7fff7f"},{"offset":0.625,"color":"#ffff00"},{"offset":0.75,"color":"#ff7f00"},{"offset":0.875,"color":"#ff0000"},{"offset":1,"color":"#7f0000"}]}},"encoding":{"y":{"field":"lo","type":"quantitative","scale":{"domain":[0,4.15],"nice":false},"axis":{"orient":"right","grid":false,"values":[0,1,2,3,4],"title":"log₁₀(1+Count) [1]","titleAngle":270,"labelFontSize":14.5,"titleFontSize":14,"labelPadding":3,"titlePadding":18}},"y2":{"field":"hi"}}},
{"width":147,"height":1,"mark":"point"},
{"width":267,"height":190,"view":{"stroke":"#c8c8c8"},"title":{"text":["Count of accelerations of Z axis","on 5 mm distances of Z axis"],"fontSize":14.5,"lineHeight":18,"offset":-6},
"layer":[
{"data":{"values":[{"x":-346,"X":3.6,"y":-12.7,"Y":12.63,"v":0}]},"mark":{"type":"rect"},"encoding":{"x":{"field":"x","type":"quantitative","scale":{"domain":[-354,9.5],"nice":false,"zero":false},"axis":{"values":[-300,-200,-100,0],"labelExpr":"''+datum.value","title":"Position Z [mm]","labelFontSize":14.5,"titleFontSize":14.2,"labelPadding":7,"titlePadding":5}},"x2":{"field":"X"},"y":{"field":"y","type":"quantitative","scale":{"domain":[-15,15],"nice":false},"axis":{"values":[-15,-10,-5,0,5,10,15],"labelExpr":"''+datum.value","title":"Acceleration [m/s²]","labelFontSize":14.5,"titleFontSize":14,"labelPadding":4,"titlePadding":0}},"y2":{"field":"Y"},"color":{"field":"v","type":"quantitative","legend":null,"scale":{"domain":[0,0.53,1.07,1.6,2.13,2.67,3.2,3.73,4.27],"range":["#00007f","#0000ff","#007fff","#00ffff","#7fff7f","#ffff00","#ff7f00","#ff0000","#7f0000"]}}}},
{"data":{"values":[{"x":-342,"y":0.4,"Y":7.6,"v":0.3},{"x":-337,"y":0.4,"Y":10.4,"v":0.45},{"x":-332,"y":0.4,"Y":10.4,"v":0.45},{"x":-332,"y":-7,"Y":-0.55,"v":0.35},{"x":-327,"y":0.4,"Y":10.4,"v":0.6},{"x":-327,"y":-7,"Y":-0.55,"v":0.5},{"x":-322,"y":0.4,"Y":12.6,"v":0.7},{"x":-322,"y":-8,"Y":-0.55,"v":0.6},{"x":-317,"y":5.5,"Y":12.6,"v":0.85},{"x":-317,"y":0.4,"Y":5.5,"v":1},{"x":-317,"y":-8,"Y":-0.55,"v":0.5},{"x":-312,"y":0.4,"Y":12.6,"v":0.95},{"x":-312,"y":-8.5,"Y":-0.55,"v":0.6},{"x":-307,"y":0.4,"Y":12.6,"v":0.7},{"x":-307,"y":-9,"Y":-0.55,"v":0.6},{"x":-302,"y":0.4,"Y":12,"v":0.8},{"x":-302,"y":-10,"Y":-0.55,"v":0.6},{"x":-297,"y":0.4,"Y":11,"v":0.8},{"x":-297,"y":-11,"Y":-0.55,"v":0.7},{"x":-292,"y":0.4,"Y":10.4,"v":0.7},{"x":-292,"y":-11.5,"Y":-0.55,"v":0.6},{"x":-287,"y":6,"Y":10.4,"v":0.8},{"x":-287,"y":0.4,"Y":6,"v":1.1},{"x":-287,"y":-12,"Y":-0.55,"v":0.7},{"x":-282,"y":0.4,"Y":10,"v":1},{"x":-282,"y":-12,"Y":-5,"v":0.6},{"x":-282,"y":-5,"Y":-0.55,"v":1.7},{"x":-277,"y":0.4,"Y":12.6,"v":1.2},{"x":-277,"y":-11,"Y":-0.55,"v":0.6},{"x":-272,"y":0.4,"Y":12.6,"v":0.7},{"x":-272,"y":-11,"Y":-0.55,"v":0.5},{"x":-267,"y":0.4,"Y":12.6,"v":0.8},{"x":-267,"y":-11.5,"Y":-0.55,"v":0.6},{"x":-262,"y":0.4,"Y":12.6,"v":0.7},{"x":-262,"y":-11.5,"Y":-0.55,"v":0.8},{"x":-257,"y":0.4,"Y":12.6,"v":1},{"x":-257,"y":-10.5,"Y":-0.55,"v":0.9},{"x":-252,"y":0.4,"Y":12.6,"v":1.15},{"x":-252,"y":-12.7,"Y":-0.55,"v":1},{"x":-247,"y":0.4,"Y":12.6,"v":1},{"x":-247,"y":-12.7,"Y":-0.55,"v":1.2},{"x":-242,"y":0.4,"Y":10.4,"v":0.3},{"x":-242,"y":-11,"Y":-0.55,"v":0.3},{"x":-237,"y":0.4,"Y":12,"v":0.6},{"x":-237,"y":-10,"Y":-0.55,"v":0.7},{"x":-232,"y":0.4,"Y":12,"v":0.7},{"x":-232,"y":-11,"Y":-0.55,"v":0.7},{"x":-227,"y":0.4,"Y":12,"v":0.5},{"x":-227,"y":-11.7,"Y":-0.55,"v":0.6},{"x":-222,"y":0.4,"Y":12,"v":0.7},{"x":-222,"y":-10,"Y":-0.55,"v":0.8},{"x":-217,"y":0.4,"Y":12,"v":0.7},{"x":-217,"y":-11.7,"Y":-0.55,"v":1.2},{"x":-212,"y":0.4,"Y":12,"v":1},{"x":-212,"y":-11.7,"Y":-0.55,"v":1.2},{"x":-207,"y":0.4,"Y":10,"v":0.4},{"x":-207,"y":-11,"Y":-0.55,"v":0.4},{"x":-202,"y":1,"Y":10,"v":0.6},{"x":-202,"y":-11,"Y":-0.55,"v":0.5},{"x":-197,"y":0.4,"Y":12,"v":0.7},{"x":-197,"y":-11.7,"Y":-0.55,"v":0.7},{"x":-192,"y":0.4,"Y":12,"v":0.5},{"x":-192,"y":-11.7,"Y":-0.55,"v":0.6},{"x":-187,"y":0.4,"Y":12,"v":0.4},{"x":-187,"y":-11,"Y":-0.55,"v":0.5},{"x":-182,"y":0.4,"Y":11,"v":0.5},{"x":-182,"y":-11.7,"Y":-0.55,"v":0.5},{"x":-177,"y":0.4,"Y":11,"v":0.6},{"x":-177,"y":-11.7,"Y":-0.55,"v":0.6},{"x":-172,"y":0.4,"Y":11,"v":0.5},{"x":-172,"y":-11.7,"Y":-0.55,"v":0.5},{"x":-167,"y":0.4,"Y":11,"v":0.5},{"x":-167,"y":-11.7,"Y":-0.55,"v":0.4},{"x":-162,"y":0.4,"Y":10,"v":0.5},{"x":-162,"y":-11.7,"Y":-0.55,"v":0.5},{"x":-157,"y":0.4,"Y":12,"v":0.6},{"x":-157,"y":-11.7,"Y":-0.55,"v":0.5},{"x":-152,"y":0.4,"Y":9,"v":0.4},{"x":-152,"y":-11.7,"Y":-0.55,"v":0.4},{"x":-147,"y":0.4,"Y":8,"v":0.4},{"x":-147,"y":-11.7,"Y":-0.55,"v":0.5},{"x":-142,"y":0.4,"Y":6,"v":0.35},{"x":-142,"y":-11.7,"Y":-0.55,"v":0.4},{"x":-137,"y":0.4,"Y":4,"v":0.35},{"x":-137,"y":-11.7,"Y":-0.55,"v":0.4},{"x":-132,"y":0.4,"Y":3,"v":0.35},{"x":-132,"y":-11.7,"Y":-0.55,"v":0.35},{"x":-127,"y":-11.7,"Y":-0.55,"v":0.4},{"x":-122,"y":-11.7,"Y":-0.55,"v":0.4},{"x":-117,"y":0.4,"Y":1,"v":0.5},{"x":-117,"y":-11.7,"Y":-5,"v":0.9},{"x":-112,"y":0.4,"Y":12,"v":1.5},{"x":-112,"y":-11.7,"Y":-0.55,"v":1},{"x":-107,"y":5,"Y":12.6,"v":1.1},{"x":-107,"y":0.4,"Y":5,"v":0.9},{"x":-107,"y":-9,"Y":-0.55,"v":0.5},{"x":-102,"y":2,"Y":12.6,"v":1.1},{"x":-102,"y":-11,"Y":-0.55,"v":0.7},{"x":-97,"y":1,"Y":12,"v":1},{"x":-97,"y":-11,"Y":-0.55,"v":0.8},{"x":-92,"y":0.4,"Y":10,"v":1},{"x":-92,"y":-7,"Y":-0.55,"v":1},{"x":-87,"y":1,"Y":8,"v":0.9},{"x":-87,"y":-10,"Y":-0.55,"v":0.9},{"x":-82,"y":0.4,"Y":6.5,"v":0.9},{"x":-82,"y":-10,"Y":-0.55,"v":0.9},{"x":-77,"y":0.4,"Y":6.5,"v":1},{"x":-77,"y":-11,"Y":-0.55,"v":1},{"x":-72,"y":0.4,"Y":6,"v":0.9},{"x":-72,"y":-11.7,"Y":-0.55,"v":1.2},{"x":-67,"y":1,"Y":5,"v":0.7},{"x":-67,"y":-11,"Y":-0.55,"v":0.8},{"x":-62,"y":2,"Y":3,"v":0.6},{"x":-62,"y":-11.7,"Y":-2,"v":0.9},{"x":-57,"y":0.4,"Y":3,"v":0.6},{"x":-57,"y":-12.7,"Y":-0.55,"v":1.5},{"x":-52,"y":-12.7,"Y":-0.55,"v":0.7},{"x":-47,"y":-4,"Y":-0.55,"v":0.7},{"x":-42,"y":-5,"Y":-2,"v":0.7},{"x":-37,"y":-6,"Y":-4,"v":0.7},{"x":-32,"y":-7,"Y":-5,"v":1.2},{"x":-27,"y":-7,"Y":-3,"v":0.7},{"x":-22,"y":-5,"Y":-2,"v":0.7},{"x":-17,"y":-4,"Y":-1,"v":0.8},{"x":-12,"y":-3,"Y":-1,"v":0.9},{"x":-7,"y":-3,"Y":-1.2,"v":0.9},{"x":-1,"y":-12.7,"Y":-0.55,"v":1.4},
{"x":-342,"y":-0.55,"Y":0.4,"v":2.8},{"x":-337,"y":-0.55,"Y":0.4,"v":2.8},{"x":-332,"y":-0.55,"Y":0.4,"v":2.9},{"x":-327,"y":-0.55,"Y":0.4,"v":3},{"x":-322,"y":-0.55,"Y":0.4,"v":3.2},{"x":-317,"y":-0.55,"Y":0.4,"v":3},{"x":-312,"y":-0.55,"Y":0.4,"v":3.3},{"x":-307,"y":-0.55,"Y":0.4,"v":3},{"x":-302,"y":-0.55,"Y":0.4,"v":4},{"x":-297,"y":-0.55,"Y":0.4,"v":3.8},{"x":-292,"y":-0.55,"Y":0.4,"v":3.7},{"x":-287,"y":-0.55,"Y":0.4,"v":3.6},{"x":-282,"y":-0.55,"Y":0.4,"v":3.7},{"x":-277,"y":-0.55,"Y":0.4,"v":3.3},{"x":-272,"y":-0.55,"Y":0.4,"v":3.1},{"x":-267,"y":-0.55,"Y":0.4,"v":3.3},{"x":-262,"y":-0.55,"Y":0.4,"v":3.5},{"x":-257,"y":-0.55,"Y":0.4,"v":3.6},{"x":-252,"y":-0.55,"Y":0.4,"v":3.5},{"x":-247,"y":-0.55,"Y":0.4,"v":2.8},{"x":-242,"y":-0.55,"Y":0.4,"v":1.2},{"x":-237,"y":-0.55,"Y":0.4,"v":1.2},{"x":-234,"y":-0.55,"Y":0.4,"v":3.7},{"x":-229,"y":-0.55,"Y":0.4,"v":1.2},{"x":-224,"y":-0.55,"Y":0.4,"v":2.7},{"x":-219,"y":-0.55,"Y":0.4,"v":1.2},{"x":-214,"y":-0.55,"Y":0.4,"v":3},{"x":-209,"y":-0.55,"Y":0.4,"v":1.2},{"x":-204,"y":-0.55,"Y":0.4,"v":1.2},{"x":-199,"y":-0.55,"Y":0.4,"v":3},{"x":-194,"y":-0.55,"Y":0.4,"v":1.2},{"x":-189,"y":-0.55,"Y":0.4,"v":1.2},{"x":-184,"y":-0.55,"Y":0.4,"v":1.2},{"x":-179,"y":-0.55,"Y":0.4,"v":1.2},{"x":-174,"y":-0.55,"Y":0.4,"v":2.7},{"x":-169,"y":-0.55,"Y":0.4,"v":1.2},{"x":-164,"y":-0.55,"Y":0.4,"v":1.2},{"x":-159,"y":-0.55,"Y":0.4,"v":2.7},{"x":-154,"y":-0.55,"Y":0.4,"v":1.2},{"x":-149,"y":-0.55,"Y":0.4,"v":1.2},{"x":-144,"y":-0.55,"Y":0.4,"v":1.2},{"x":-139,"y":-0.55,"Y":0.4,"v":1.2},{"x":-134,"y":-0.55,"Y":0.4,"v":1.2},{"x":-129,"y":-0.55,"Y":0.4,"v":1.2},{"x":-124,"y":-0.55,"Y":0.4,"v":1.2},{"x":-119,"y":-0.55,"Y":0.4,"v":1.2},{"x":-114,"y":-0.55,"Y":0.4,"v":4.2},{"x":-109,"y":-0.55,"Y":0.4,"v":3},{"x":-104,"y":-0.55,"Y":0.4,"v":2.8},{"x":-99,"y":-0.55,"Y":0.4,"v":1.2},{"x":-94,"y":-0.55,"Y":0.4,"v":1.2},{"x":-89,"y":-0.55,"Y":0.4,"v":2.7},{"x":-84,"y":-0.55,"Y":0.4,"v":1.2},{"x":-79,"y":-0.55,"Y":0.4,"v":2.7},{"x":-74,"y":-0.55,"Y":0.4,"v":1.2},{"x":-69,"y":-0.55,"Y":0.4,"v":1.2},{"x":-64,"y":-0.55,"Y":0.4,"v":1.2},{"x":-59,"y":-0.55,"Y":0.4,"v":1.2},{"x":-54,"y":-0.55,"Y":0.4,"v":3.8},{"x":-2,"y":-0.55,"Y":0.4,"v":3.8},{"x":2,"y":-0.55,"Y":0.4,"v":3.8}]},"mark":{"type":"rect","width":3.8},"encoding":{"x":{"field":"x","type":"quantitative"},"y":{"field":"y","type":"quantitative"},"y2":{"field":"Y"},"color":{"field":"v","type":"quantitative","legend":null}}},
{"data":{"values":[{"x":-335,"X":-150,"y":10.4,"Y":11,"v":1.3},{"x":-300,"X":-270,"y":10.4,"Y":11,"v":1.7},{"x":-280,"X":-150,"y":11.6,"Y":12.6,"v":1.1},{"x":-175,"X":-120,"y":-11.2,"Y":-10.6,"v":1.4},{"x":-130,"X":-113,"y":-11.2,"Y":-10.6,"v":1.9},{"x":-50,"X":-7,"y":-11.2,"Y":-10.6,"v":1.4},{"x":-240,"X":3.6,"y":-12.7,"Y":-11.7,"v":1.1},{"x":-60,"X":-52,"y":-12.7,"Y":-11.7,"v":1.9},{"x":-258,"X":-245,"y":-12.7,"Y":-11.7,"v":1.7}]},"mark":{"type":"rect"},"encoding":{"x":{"field":"x","type":"quantitative"},"x2":{"field":"X"},"y":{"field":"y","type":"quantitative"},"y2":{"field":"Y"},"color":{"field":"v","type":"quantitative","legend":null}}}
]},
{"width":4,"height":1,"mark":"point"},
{"width":6,"height":190,"data":{"values":[{"lo":0,"hi":4.15}]},"mark":{"type":"rect","fill":{"gradient":"linear","x1":0,"y1":1,"x2":0,"y2":0,"stops":[{"offset":0,"color":"#00007f"},{"offset":0.125,"color":"#0000ff"},{"offset":0.25,"color":"#007fff"},{"offset":0.375,"color":"#00ffff"},{"offset":0.5,"color":"#7fff7f"},{"offset":0.625,"color":"#ffff00"},{"offset":0.75,"color":"#ff7f00"},{"offset":0.875,"color":"#ff0000"},{"offset":1,"color":"#7f0000"}]}},"encoding":{"y":{"field":"lo","type":"quantitative","scale":{"domain":[0,4.15],"nice":false},"axis":{"orient":"right","grid":false,"values":[0,1,2,3,4],"title":"log₁₀(1+Count) [1]","titleAngle":270,"labelFontSize":14.5,"titleFontSize":14,"labelPadding":3,"titlePadding":18}},"y2":{"field":"hi"}}}
]}
]}
